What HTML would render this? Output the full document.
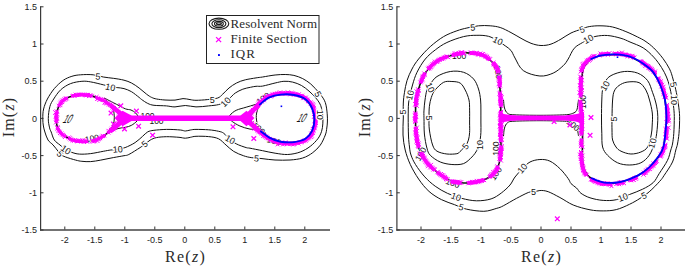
<!DOCTYPE html>
<html><head><meta charset="utf-8"><style>
html,body{margin:0;padding:0;background:#fff;width:685px;height:266px;overflow:hidden}
svg{display:block}
.tk{font-family:"Liberation Sans",sans-serif;font-size:9px;fill:#222}
.cl{font-family:"Liberation Sans",sans-serif;font-size:9px;fill:#111;text-anchor:middle;dominant-baseline:central;paint-order:stroke;stroke:#fff;stroke-width:2.2px}
.s{font-size:8.5px;stroke-width:1.5px}
.lg{font-family:"Liberation Serif",serif;font-size:13px;fill:#2a2a2a}
.ax{font-family:"Liberation Serif",serif;font-size:16px;fill:#2a2a2a}
</style></head><body>
<svg width="685" height="266" viewBox="0 0 685 266">
<path d="M42.8,118.5C42.8,115.7 42.8,112.2 43.6,109.0C44.4,105.8 45.6,102.4 47.4,99.0C49.2,95.6 51.7,91.7 54.3,88.6C56.9,85.5 60.2,82.5 63.1,80.4C66.0,78.4 69.0,77.2 71.9,76.3C74.8,75.4 77.2,75.0 80.7,74.8C84.2,74.5 89.4,74.4 93.2,74.8C97.0,75.2 100.0,76.4 103.3,77.0C106.6,77.6 109.8,77.8 113.3,78.3C116.8,78.8 121.0,79.4 124.0,80.2C127.0,81.0 129.0,81.7 131.5,83.0C134.0,84.3 136.6,86.1 139.1,88.0C141.6,89.9 144.5,92.6 146.6,94.2C148.7,95.8 149.9,96.6 151.6,97.4C153.3,98.2 154.4,98.6 156.6,99.0C158.8,99.4 161.9,99.8 165.0,100.0C168.1,100.2 172.0,100.3 175.0,100.1C178.0,99.9 180.5,98.7 183.0,98.6C185.5,98.5 187.8,99.3 190.0,99.6C192.2,99.9 193.1,100.3 196.0,100.3C198.9,100.3 203.7,100.0 207.3,99.6C210.9,99.2 215.1,98.9 217.7,98.0C220.3,97.1 220.8,95.9 222.7,94.2C224.6,92.5 226.7,89.9 229.0,88.0C231.3,86.1 233.8,84.4 236.5,83.0C239.2,81.6 242.1,80.6 245.3,79.8C248.6,79.0 253.1,78.4 256.0,77.9C258.9,77.4 259.4,77.5 262.6,77.0C265.8,76.5 271.3,75.4 275.1,75.0C278.9,74.6 282.1,74.4 285.2,74.5C288.3,74.6 291.0,74.7 293.9,75.4C296.8,76.1 300.0,77.2 302.7,78.6C305.4,80.0 308.2,81.9 310.3,83.6C312.4,85.3 313.6,86.8 315.3,88.6C317.0,90.4 318.8,92.2 320.5,94.5C322.2,96.8 324.2,99.3 325.3,102.5C326.4,105.7 326.9,110.5 327.2,113.8C327.5,117.0 327.5,119.6 327.4,122.0C327.3,124.4 327.1,125.8 326.8,128.0C326.5,130.2 326.4,132.2 325.3,135.0C324.2,137.8 322.4,142.2 320.3,145.1C318.2,148.0 315.7,150.4 312.8,152.6C309.9,154.8 306.5,156.8 302.7,158.0C298.9,159.2 294.6,159.7 290.0,160.0C285.4,160.3 279.7,160.2 275.0,160.0C270.3,159.8 266.0,159.0 262.0,158.6C258.0,158.2 254.2,158.1 251.2,157.6C248.1,157.1 246.6,156.8 243.7,155.8C240.8,154.8 236.6,153.2 233.7,151.4C230.8,149.6 228.6,147.2 226.1,145.1C223.6,143.0 221.5,140.2 218.6,138.8C215.7,137.4 212.4,137.0 208.6,136.6C204.8,136.2 199.0,136.2 196.0,136.3C193.0,136.4 192.2,137.0 190.4,137.3C188.6,137.6 187.2,138.2 185.3,138.2C183.4,138.2 182.1,137.6 179.0,137.3C175.9,137.1 170.2,136.6 166.5,136.7C162.8,136.8 159.2,137.0 156.5,137.6C153.8,138.2 152.1,139.0 150.2,140.1C148.3,141.2 146.9,142.8 145.2,144.0C143.5,145.2 142.8,145.8 140.1,147.6C137.4,149.3 131.5,153.2 128.8,154.5C126.1,155.8 126.6,155.2 124.0,155.7C121.4,156.2 117.2,156.9 113.3,157.6C109.4,158.3 104.6,159.4 100.8,160.1C97.0,160.8 93.8,161.4 90.7,161.6C87.6,161.8 84.4,161.6 81.9,161.3C79.4,161.1 78.4,160.8 75.7,160.1C73.0,159.4 68.1,157.9 65.6,157.0C63.1,156.1 61.9,155.4 60.6,154.5C59.4,153.6 59.4,152.9 58.1,151.3C56.9,149.7 54.8,146.9 53.1,145.0C51.4,143.1 49.4,142.2 48.0,140.0C46.6,137.8 45.7,134.3 44.9,132.0C44.1,129.7 43.8,128.2 43.4,126.0C43.0,123.8 42.8,121.3 42.8,118.5Z" fill="none" stroke="#111" stroke-width="1.0" />
<path d="M48.3,118.5C48.3,114.9 49.0,109.8 49.9,106.5C50.8,103.2 51.9,101.8 53.7,99.0C55.5,96.2 57.8,92.5 60.6,89.9C63.4,87.3 67.0,85.0 70.6,83.6C74.1,82.2 78.6,81.6 81.9,81.3C85.2,81.0 87.1,81.3 90.7,81.9C94.3,82.5 100.0,84.0 103.3,84.8C106.6,85.6 108.5,86.3 110.8,86.8C113.1,87.3 114.9,87.3 117.1,87.6C119.3,87.9 121.6,87.9 124.0,88.6C126.4,89.3 129.0,90.2 131.5,91.7C134.0,93.2 137.4,96.1 139.1,97.4C140.8,98.7 140.2,98.5 141.6,99.5C143.0,100.5 145.6,102.4 147.7,103.4C149.8,104.4 150.9,104.9 154.0,105.3C157.1,105.7 163.0,105.6 166.5,105.9C170.0,106.2 171.9,107.0 175.0,106.9C178.1,106.8 181.8,105.5 185.3,105.5C188.8,105.5 192.1,106.8 196.0,106.9C199.9,107.0 204.8,106.3 208.6,105.9C212.4,105.5 215.8,105.3 218.6,104.6C221.4,103.9 223.8,102.4 225.5,101.5C227.2,100.6 227.4,100.4 229.0,99.0C230.6,97.6 233.0,94.6 235.3,93.0C237.6,91.4 240.3,90.2 242.8,89.2C245.3,88.2 248.2,87.8 250.4,87.3C252.6,86.8 254.0,86.5 256.0,86.3C258.0,86.1 259.4,86.6 262.6,86.1C265.8,85.5 271.6,83.8 275.1,83.0C278.7,82.2 281.0,81.5 283.9,81.3C286.8,81.1 289.8,81.4 292.7,82.1C295.6,82.8 298.8,84.0 301.5,85.5C304.2,87.0 306.7,89.1 309.0,91.1C311.3,93.1 313.6,95.4 315.3,97.4C317.1,99.4 318.4,101.1 319.5,103.0C320.6,104.9 321.1,106.4 321.6,108.6C322.2,110.8 322.6,113.5 322.8,116.0C323.0,118.5 323.0,121.4 322.8,123.9C322.6,126.5 322.4,128.8 321.6,131.3C320.8,133.8 319.7,136.3 317.8,138.8C315.9,141.3 313.2,144.1 310.3,146.3C307.4,148.5 304.0,150.6 300.2,152.0C296.4,153.4 291.9,154.3 287.7,154.5C283.5,154.7 279.3,153.8 275.1,153.2C270.9,152.6 266.8,151.5 262.6,150.7C258.4,149.9 252.7,148.7 250.0,148.2C247.3,147.7 248.5,148.3 246.2,147.6C243.9,146.9 239.0,145.3 236.2,143.8C233.4,142.3 231.4,140.6 229.3,138.8C227.2,137.0 225.4,134.4 223.6,133.2C221.8,131.9 221.1,131.9 218.6,131.3C216.1,130.7 212.4,130.1 208.6,129.8C204.8,129.5 199.0,129.4 196.0,129.4C193.0,129.4 192.2,129.7 190.4,130.0C188.6,130.3 187.0,131.0 185.3,131.0C183.6,131.0 183.4,130.3 180.3,130.0C177.2,129.7 170.9,129.3 166.5,129.4C162.1,129.5 157.0,129.9 153.9,130.3C150.8,130.7 149.6,130.9 147.7,131.9C145.8,132.9 144.7,134.5 142.6,136.3C140.5,138.1 138.0,140.7 135.1,142.6C132.2,144.5 128.0,146.5 125.1,147.6C122.2,148.7 119.9,149.0 117.5,149.4C115.1,149.8 113.2,149.7 110.8,150.0C108.4,150.3 106.6,150.7 103.3,151.3C100.0,151.9 94.7,153.1 90.7,153.6C86.7,154.1 82.6,154.3 79.4,154.1C76.2,153.9 73.6,153.0 71.3,152.2C69.0,151.4 67.5,150.7 65.6,149.5C63.7,148.3 61.9,146.6 60.0,145.0C58.1,143.4 55.8,142.2 54.3,140.0C52.8,137.8 52.0,134.0 51.2,132.0C50.4,130.0 50.1,130.2 49.6,127.9C49.1,125.7 48.2,122.1 48.3,118.5Z" fill="none" stroke="#111" stroke-width="1.0" />
<path d="M104.0,98.0C106.1,99.0 113.0,102.5 116.5,104.3C120.0,106.1 122.9,107.8 125.3,108.8C127.7,109.8 129.3,109.3 131.0,110.0C132.7,110.7 134.4,111.8 135.6,113.0C136.8,114.2 138.0,115.7 138.2,117.0C138.4,118.3 138.2,119.6 137.0,121.0C135.8,122.4 133.2,124.4 131.3,125.4C129.4,126.5 127.5,126.8 125.3,127.3C123.0,127.8 120.7,127.8 117.8,128.6C114.9,129.4 109.6,131.4 108.0,132.0" fill="none" stroke="#111" stroke-width="1.0" />
<path d="M105.8,100.0C106.7,100.8 109.7,103.3 111.0,105.0C112.3,106.7 113.0,107.9 113.5,110.0C114.0,112.1 114.3,115.5 114.3,117.8C114.3,120.1 114.0,122.2 113.5,124.0C113.0,125.8 112.1,127.2 111.0,128.5C109.9,129.8 107.7,131.4 107.0,132.0" fill="none" stroke="#111" stroke-width="1.0" />
<path d="M265.0,101.0C263.3,101.6 258.1,103.6 255.0,104.6C251.9,105.6 249.3,106.2 246.2,107.2C243.1,108.2 238.9,109.0 236.2,110.3C233.5,111.6 231.0,113.9 229.9,115.3C228.8,116.7 229.1,117.5 229.5,118.5C229.9,119.5 230.7,120.3 232.4,121.6C234.1,122.8 237.0,124.8 239.9,126.0C242.8,127.2 246.4,128.5 250.0,129.1C253.6,129.7 258.6,128.7 261.3,129.5C264.0,130.3 265.2,133.2 266.0,134.0" fill="none" stroke="#111" stroke-width="1.0" />
<path d="M262.0,104.0C261.5,104.4 259.8,104.6 258.8,106.5C257.9,108.4 256.5,112.4 256.3,115.3C256.1,118.2 256.7,122.1 257.5,124.1C258.3,126.1 260.7,126.9 261.3,127.5" fill="none" stroke="#111" stroke-width="1.0" />
<path d="M125.3,118.0C124.5,117.4 122.2,115.8 120.3,114.2C118.4,112.6 116.3,110.3 114.0,108.3C111.7,106.3 109.0,103.9 106.5,102.3C104.0,100.7 101.7,99.6 99.0,98.5C96.3,97.4 93.1,96.2 90.2,95.6C87.3,95.0 84.3,94.8 81.4,94.8C78.5,94.8 75.3,95.2 72.6,95.9C69.9,96.6 67.2,97.7 65.1,99.0C63.0,100.3 61.5,102.0 60.2,104.0C58.9,106.0 57.9,108.3 57.2,110.7C56.5,113.1 56.2,115.8 56.2,118.5C56.2,121.2 56.4,124.4 57.3,127.0C58.2,129.6 59.8,132.0 61.8,134.0C63.8,136.0 66.8,137.6 69.5,138.8C72.2,140.0 75.1,140.7 78.0,141.2C80.9,141.7 84.2,141.8 87.0,141.6C89.8,141.4 92.5,141.0 95.0,140.2C97.5,139.4 99.8,138.3 102.0,137.0C104.2,135.7 106.4,134.0 108.5,132.3C110.6,130.6 112.5,128.9 114.5,127.0C116.5,125.1 118.5,122.5 120.3,121.0C122.1,119.5 124.5,118.5 125.3,118.0" fill="none" stroke="#111" stroke-width="1.6" />
<path d="M248.7,118.0C249.6,116.9 252.2,113.4 254.0,111.2C255.8,109.0 256.6,107.2 259.2,104.9C261.8,102.6 265.7,99.1 269.3,97.4C272.9,95.7 276.5,95.0 280.6,94.6C284.7,94.2 290.0,94.2 294.1,95.0C298.2,95.8 302.4,97.1 305.4,99.3C308.4,101.5 310.6,104.9 312.1,108.3C313.6,111.7 314.4,115.8 314.4,119.6C314.4,123.4 313.6,127.7 312.1,130.9C310.6,134.1 308.4,136.9 305.4,138.8C302.4,140.7 298.2,141.6 294.1,142.1C290.0,142.6 284.7,142.4 280.6,141.7C276.5,140.9 272.7,139.4 269.3,137.6C265.9,135.8 262.9,133.0 260.3,130.9C257.8,128.8 255.9,127.0 254.0,124.8C252.1,122.6 249.6,119.1 248.7,118.0" fill="none" stroke="#111" stroke-width="1.4" />
<text x="147.5" y="116.2" transform="rotate(0 147.5 116.2)" class="cl s">100</text>
<text x="156.5" y="120.6" transform="rotate(0 156.5 120.6)" class="cl s">100</text>
<text x="263" y="98.5" transform="rotate(-35 263 98.5)" class="cl s">100</text>
<text x="258.6" y="128.2" transform="rotate(42 258.6 128.2)" class="cl s">100</text>
<text x="274" y="141" transform="rotate(15 274 141)" class="cl s">100</text>
<text x="92" y="138.5" transform="rotate(-10 92 138.5)" class="cl s">100</text>
<path d="M125.3,118.0L124.8,117.7L124.2,117.2L123.5,116.7L122.6,116.1L121.8,115.4L120.9,114.7L120.1,114.0L119.5,113.5L118.8,112.9L118.2,112.3L118.0,112.0M115.2,109.4L114.5,108.7L113.8,108.1L113.1,107.5L112.4,107.0L111.7,106.4L111.0,105.8L110.3,105.2L109.6,104.6L108.9,104.0L108.2,103.5L107.4,102.9L106.7,102.5L106.0,102.0L105.2,101.5L104.4,101.0L103.6,100.6L102.8,100.2L102.0,99.8L101.2,99.5L100.4,99.1L99.6,98.7L98.7,98.4L97.9,98.1L97.0,97.7L96.2,97.4L95.6,97.2M92.3,96.1L91.4,95.9L90.5,95.7L89.6,95.5L88.7,95.3L87.8,95.2L86.9,95.1L86.0,95.0L85.0,94.9L84.1,94.8L83.2,94.8L82.3,94.8L81.4,94.8L80.5,94.8L79.6,94.9L78.6,94.9L77.7,95.0L76.8,95.1L75.8,95.3L74.9,95.4L74.0,95.6L73.2,95.8L72.3,96.0L71.4,96.2M67.4,97.8L66.6,98.1L65.8,98.6L65.1,99.0L64.3,99.5L63.6,100.1L62.9,100.7L62.3,101.4L61.7,102.1L61.1,102.8L60.5,103.5L60.0,104.2L59.6,105.0L59.1,105.8L58.7,106.6M57.2,110.7L57.0,111.5L56.8,112.4L56.6,113.3L56.5,114.2L56.4,115.1L56.3,116.0L56.2,116.9L56.2,117.9L56.2,118.8L56.2,119.7L56.2,120.6L56.3,121.5L56.4,122.5L56.4,122.8M57.3,127.0L57.6,127.9L58.0,128.7L58.4,129.5L58.9,130.3L59.4,131.1L59.9,131.9L60.5,132.6L61.1,133.3L61.8,134.0L62.4,134.6L63.1,135.1L63.8,135.7L64.6,136.2L65.4,136.7M68.4,138.3L69.2,138.7L70.1,139.0L70.9,139.4L71.8,139.7L72.6,140.0L73.5,140.2L74.4,140.5L75.3,140.7L76.2,140.9L77.1,141.0L78.0,141.2L78.9,141.3L79.8,141.4L80.7,141.5L81.6,141.6L82.5,141.6L83.4,141.7L84.4,141.7L85.3,141.7L86.1,141.6L87.0,141.6L87.3,141.6M92.2,140.9L93.0,140.7L93.9,140.5L94.7,140.3L95.6,140.0L96.5,139.7L97.3,139.4L98.2,139.0L99.0,138.6L99.8,138.2L100.6,137.8L101.5,137.3L102.3,136.8L103.0,136.4L103.8,135.9L104.6,135.3L104.8,135.1M107.8,132.9L108.5,132.3L109.2,131.7L109.9,131.1L110.6,130.5L111.3,129.9L112.0,129.3L112.7,128.7L113.4,128.1L114.0,127.4L114.7,126.8L115.4,126.1L116.0,125.4L116.7,124.7L117.4,124.0L118.0,123.3L118.6,122.6L119.3,121.9L119.9,121.4L120.6,120.8L121.5,120.1L122.4,119.5L123.3,119.0L124.1,118.6L124.8,118.3L125.3,118.0" fill="none" stroke="#ff00ff" stroke-width="3.0" stroke-linejoin="round"/>
<path d="M122.8 116.2l4.4 4.4m0 -4.4l-4.4 4.4M122.2 115.4l4.3 4.3m0 -4.3l-4.3 4.3M121.7 114.7l3.7 3.7m0 -3.7l-3.7 3.7M121.0 114.1l3.6 3.6m0 -3.6l-3.6 3.6M119.6 113.7l3.9 3.9m0 -3.9l-3.9 3.9M118.9 113.2l3.5 3.5m0 -3.5l-3.5 3.5M118.1 112.3l3.7 3.7m0 -3.7l-3.7 3.7M117.0 111.7l3.9 3.9m0 -3.9l-3.9 3.9M116.7 110.5l3.6 3.6m0 -3.6l-3.6 3.6M112.3 107.5l3.9 3.9m0 -3.9l-3.9 3.9M111.6 106.0l4.4 4.4m0 -4.4l-4.4 4.4M110.7 105.7l3.8 3.8m0 -3.8l-3.8 3.8M110.5 104.6l3.4 3.4m0 -3.4l-3.4 3.4M109.3 103.3l4.2 4.2m0 -4.2l-4.2 4.2M108.2 102.7l4.1 4.1m0 -4.1l-4.1 4.1M106.9 102.5l4.0 4.0m0 -4.0l-4.0 4.0M106.6 101.0l3.9 3.9m0 -3.9l-3.9 3.9M104.9 101.9l3.5 3.5m0 -3.5l-3.5 3.5M103.6 100.8l4.2 4.2m0 -4.2l-4.2 4.2M102.6 100.7l3.8 3.8m0 -3.8l-3.8 3.8M102.6 98.6l3.6 3.6m0 -3.6l-3.6 3.6M101.4 98.5l3.5 3.5m0 -3.5l-3.5 3.5M100.3 97.7l3.8 3.8m0 -3.8l-3.8 3.8M99.3 97.3l3.5 3.5m0 -3.5l-3.5 3.5M97.4 97.7l4.2 4.2m0 -4.2l-4.2 4.2M96.8 96.8l3.7 3.7m0 -3.7l-3.7 3.7M95.2 96.4l4.4 4.4m0 -4.4l-4.4 4.4M94.9 95.0l3.6 3.6m0 -3.6l-3.6 3.6M89.7 93.9l4.0 4.0m0 -4.0l-4.0 4.0M88.9 93.4l3.4 3.4m0 -3.4l-3.4 3.4M87.0 93.7l4.4 4.4m0 -4.4l-4.4 4.4M86.2 92.8l3.9 3.9m0 -3.9l-3.9 3.9M84.7 93.0l4.3 4.3m0 -4.3l-4.3 4.3M83.5 92.9l4.3 4.3m0 -4.3l-4.3 4.3M82.7 93.5l3.5 3.5m0 -3.5l-3.5 3.5M81.5 92.8l3.5 3.5m0 -3.5l-3.5 3.5M80.1 92.8l3.7 3.7m0 -3.7l-3.7 3.7M79.1 92.8l3.4 3.4m0 -3.4l-3.4 3.4M77.8 92.8l3.4 3.4m0 -3.4l-3.4 3.4M76.3 92.7l4.0 4.0m0 -4.0l-4.0 4.0M75.2 93.2l3.8 3.8m0 -3.8l-3.8 3.8M73.7 92.7l4.2 4.2m0 -4.2l-4.2 4.2M73.0 94.3l3.5 3.5m0 -3.5l-3.5 3.5M71.6 93.7l3.7 3.7m0 -3.7l-3.7 3.7M70.6 94.1l3.4 3.4m0 -3.4l-3.4 3.4M64.7 96.4l3.9 3.9m0 -3.9l-3.9 3.9M63.7 96.8l3.9 3.9m0 -3.9l-3.9 3.9M62.5 97.3l4.3 4.3m0 -4.3l-4.3 4.3M61.8 98.4l3.6 3.6m0 -3.6l-3.6 3.6M60.4 98.6l3.9 3.9m0 -3.9l-3.9 3.9M59.9 99.8l4.2 4.2m0 -4.2l-4.2 4.2M58.7 100.4l4.3 4.3m0 -4.3l-4.3 4.3M58.3 101.7l3.6 3.6m0 -3.6l-3.6 3.6M58.5 103.3l3.8 3.8m0 -3.8l-3.8 3.8M56.9 103.8l3.7 3.7m0 -3.7l-3.7 3.7M54.7 109.4l4.4 4.4m0 -4.4l-4.4 4.4M53.2 110.3l4.4 4.4m0 -4.4l-4.4 4.4M55.3 112.2l3.6 3.6m0 -3.6l-3.6 3.6M54.2 113.1l4.0 4.0m0 -4.0l-4.0 4.0M53.8 114.2l4.2 4.2m0 -4.2l-4.2 4.2M55.0 115.8l3.5 3.5m0 -3.5l-3.5 3.5M54.8 116.6l4.3 4.3m0 -4.3l-4.3 4.3M54.4 118.2l3.6 3.6m0 -3.6l-3.6 3.6M55.0 119.3l3.7 3.7m0 -3.7l-3.7 3.7M54.0 120.6l3.8 3.8m0 -3.8l-3.8 3.8M55.4 125.2l4.1 4.1m0 -4.1l-4.1 4.1M55.5 126.3l4.3 4.3m0 -4.3l-4.3 4.3M56.5 127.9l3.5 3.5m0 -3.5l-3.5 3.5M56.6 129.1l3.8 3.8m0 -3.8l-3.8 3.8M58.1 129.8l3.5 3.5m0 -3.5l-3.5 3.5M58.0 131.1l3.9 3.9m0 -3.9l-3.9 3.9M59.5 131.5l3.8 3.8m0 -3.8l-3.8 3.8M60.3 132.7l3.7 3.7m0 -3.7l-3.7 3.7M61.5 133.1l3.6 3.6m0 -3.6l-3.6 3.6M62.4 134.1l3.5 3.5m0 -3.5l-3.5 3.5M63.0 135.1l3.8 3.8m0 -3.8l-3.8 3.8M66.9 135.5l3.8 3.8m0 -3.8l-3.8 3.8M67.8 136.4l3.9 3.9m0 -3.9l-3.9 3.9M68.7 137.3l3.8 3.8m0 -3.8l-3.8 3.8M70.1 138.0l3.4 3.4m0 -3.4l-3.4 3.4M70.8 138.3l4.1 4.1m0 -4.1l-4.1 4.1M72.1 139.0l3.7 3.7m0 -3.7l-3.7 3.7M73.7 138.1l3.5 3.5m0 -3.5l-3.5 3.5M74.7 138.8l3.6 3.6m0 -3.6l-3.6 3.6M75.7 139.3l4.0 4.0m0 -4.0l-4.0 4.0M76.8 138.6l4.3 4.3m0 -4.3l-4.3 4.3M78.2 139.1l3.9 3.9m0 -3.9l-3.9 3.9M79.4 139.3l3.9 3.9m0 -3.9l-3.9 3.9M80.5 138.4l4.1 4.1m0 -4.1l-4.1 4.1M81.6 139.7l4.3 4.3m0 -4.3l-4.3 4.3M82.8 138.4l4.2 4.2m0 -4.2l-4.2 4.2M84.4 139.4l3.5 3.5m0 -3.5l-3.5 3.5M85.6 140.2l3.5 3.5m0 -3.5l-3.5 3.5M90.1 139.0l4.2 4.2m0 -4.2l-4.2 4.2M91.4 139.1l4.1 4.1m0 -4.1l-4.1 4.1M92.5 138.9l4.3 4.3m0 -4.3l-4.3 4.3M93.8 138.3l3.8 3.8m0 -3.8l-3.8 3.8M95.0 138.5l4.4 4.4m0 -4.4l-4.4 4.4M96.1 137.4l3.9 3.9m0 -3.9l-3.9 3.9M97.4 137.2l3.6 3.6m0 -3.6l-3.6 3.6M98.1 136.1l4.0 4.0m0 -4.0l-4.0 4.0M99.4 135.7l3.4 3.4m0 -3.4l-3.4 3.4M100.3 134.7l3.5 3.5m0 -3.5l-3.5 3.5M101.0 133.8l4.2 4.2m0 -4.2l-4.2 4.2M102.8 134.0l3.4 3.4m0 -3.4l-3.4 3.4M106.6 130.8l3.7 3.7m0 -3.7l-3.7 3.7M106.5 128.9l4.2 4.2m0 -4.2l-4.2 4.2M108.7 129.6l3.5 3.5m0 -3.5l-3.5 3.5M108.9 127.9l3.5 3.5m0 -3.5l-3.5 3.5M109.7 127.0l4.1 4.1m0 -4.1l-4.1 4.1M111.6 127.3l4.0 4.0m0 -4.0l-4.0 4.0M112.4 126.3l3.5 3.5m0 -3.5l-3.5 3.5M113.4 125.5l3.9 3.9m0 -3.9l-3.9 3.9M113.9 124.2l4.0 4.0m0 -4.0l-4.0 4.0M114.5 123.0l3.9 3.9m0 -3.9l-3.9 3.9M115.8 122.4l3.5 3.5m0 -3.5l-3.5 3.5M116.6 121.4l3.7 3.7m0 -3.7l-3.7 3.7M117.1 120.1l4.2 4.2m0 -4.2l-4.2 4.2M117.8 119.2l3.7 3.7m0 -3.7l-3.7 3.7M119.1 118.7l3.7 3.7m0 -3.7l-3.7 3.7M120.0 118.1l3.6 3.6m0 -3.6l-3.6 3.6M120.2 116.7l4.3 4.3m0 -4.3l-4.3 4.3M122.0 117.0l3.9 3.9m0 -3.9l-3.9 3.9M122.7 115.9l3.8 3.8m0 -3.8l-3.8 3.8" stroke="#ff00ff" stroke-width="1.0" fill="none"/>
<path d="M121,118.2H249" stroke="#ff00ff" stroke-width="5.4"/>
<path d="M247.7,117.2L248.0,116.8L248.5,116.2L249.0,115.5L249.6,114.7L250.2,113.9L250.9,113.1L251.5,112.2L252.2,111.4L252.8,110.6L253.3,109.9L253.9,109.3L254.3,108.6L254.8,107.9L255.3,107.2L255.9,106.5L256.5,105.7L257.2,105.0L258.0,104.2L258.7,103.6L259.3,103.0L260.0,102.5L260.7,101.9L261.4,101.2L262.2,100.6L262.9,100.0L263.7,99.4L264.5,98.8L265.4,98.2L266.2,97.7L267.0,97.1L267.9,96.7L268.7,96.2L269.6,95.8L270.5,95.5L271.4,95.1L272.3,94.8L273.2,94.6L274.1,94.3L275.1,94.1L276.0,93.9L276.9,93.8L277.9,93.6L278.8,93.5L279.8,93.4L280.8,93.3L281.6,93.2L282.5,93.1L283.4,93.1L284.4,93.1L285.3,93.0L286.3,93.0L287.2,93.1L288.2,93.1L289.1,93.1L290.1,93.2L291.0,93.3L292.0,93.4L292.9,93.5L293.8,93.6L294.7,93.8L295.6,94.0L296.6,94.2L297.5,94.4L298.5,94.7L299.4,95.0L300.3,95.3L301.2,95.6L302.1,96.0L303.0,96.4L303.8,96.8L304.6,97.2L305.4,97.7L306.2,98.3L306.9,98.9L307.7,99.5L308.4,100.2L309.0,100.9L309.7,101.7L310.3,102.5L310.8,103.3L311.4,104.1L311.9,104.9L312.3,105.8L312.8,106.6L313.2,107.5L313.5,108.3L313.9,109.2L314.2,110.1L314.5,111.0L314.7,112.0L315.0,112.9L315.1,113.9L315.3,114.8L315.5,115.8L315.6,116.8L315.6,117.7L315.7,118.7L315.7,119.6L315.7,120.5L315.6,121.5L315.6,122.5L315.5,123.4L315.3,124.4L315.1,125.4L315.0,126.4L314.7,127.3L314.5,128.2L314.2,129.2L313.9,130.0L313.5,130.9L313.1,131.7L312.7,132.6L312.2,133.5L311.7,134.3L311.1,135.1L310.5,135.9L309.9,136.7L309.2,137.4L308.5,138.1L307.7,138.7L306.9,139.3L306.1,139.9L305.3,140.4L304.5,140.8L303.7,141.1L302.8,141.5L301.9,141.8L301.0,142.1L300.1,142.3L299.1,142.6L298.1,142.8L297.2,143.0L296.2,143.1L295.2,143.3L294.3,143.4L293.4,143.5L292.5,143.6L291.6,143.6L290.6,143.7L289.7,143.7L288.8,143.7L287.8,143.7L286.8,143.6L285.9,143.6L284.9,143.5L284.0,143.5L283.0,143.4L282.1,143.3L281.2,143.1L280.4,143.0L279.4,142.8L278.5,142.6L277.5,142.3L276.6,142.1L275.7,141.8L274.8,141.5L273.9,141.2L273.1,140.8L272.2,140.4L271.4,140.1L270.5,139.7L269.7,139.3L269.0,138.9L268.1,138.4L267.3,137.9L266.4,137.4L265.6,136.8L264.8,136.3L264.1,135.7L263.3,135.1L262.6,134.5L261.9,133.9L261.2,133.4L260.5,132.8L259.9,132.2L259.2,131.7L258.4,131.0L257.7,130.4L257.0,129.7L256.3,129.1L255.7,128.5L255.1,127.8L254.4,127.2L253.8,126.6L253.2,125.9L252.6,125.2L251.9,124.4L251.2,123.5L250.6,122.7L249.9,121.8L249.3,121.0L248.8,120.2L248.3,119.6L247.9,119.1L247.7,118.8" fill="none" stroke="#ff00ff" stroke-width="3.0" stroke-linejoin="round"/>
<path d="M245.3 114.9l3.7 3.7m0 -3.7l-3.7 3.7M245.0 113.4l4.1 4.1m0 -4.1l-4.1 4.1M246.9 113.5l3.5 3.5m0 -3.5l-3.5 3.5M248.3 112.9l3.5 3.5m0 -3.5l-3.5 3.5M248.7 111.9l3.5 3.5m0 -3.5l-3.5 3.5M249.2 110.9l4.3 4.3m0 -4.3l-4.3 4.3M249.8 110.0l3.7 3.7m0 -3.7l-3.7 3.7M251.0 109.6l3.6 3.6m0 -3.6l-3.6 3.6M250.9 107.9l4.4 4.4m0 -4.4l-4.4 4.4M253.3 108.3l3.6 3.6m0 -3.6l-3.6 3.6M252.6 106.5l3.4 3.4m0 -3.4l-3.4 3.4M253.7 105.8l3.9 3.9m0 -3.9l-3.9 3.9M254.4 104.9l3.4 3.4m0 -3.4l-3.4 3.4M255.5 104.2l3.5 3.5m0 -3.5l-3.5 3.5M256.0 102.7l3.7 3.7m0 -3.7l-3.7 3.7M256.7 101.6l4.0 4.0m0 -4.0l-4.0 4.0M257.5 100.8l4.1 4.1m0 -4.1l-4.1 4.1M258.0 99.5l3.8 3.8m0 -3.8l-3.8 3.8M259.6 99.4l4.1 4.1m0 -4.1l-4.1 4.1M260.7 98.7l3.4 3.4m0 -3.4l-3.4 3.4M261.8 98.1l4.1 4.1m0 -4.1l-4.1 4.1M262.5 96.6l3.5 3.5m0 -3.5l-3.5 3.5M262.9 95.0l4.2 4.2m0 -4.2l-4.2 4.2M264.8 95.3l4.0 4.0m0 -4.0l-4.0 4.0M265.9 94.5l3.6 3.6m0 -3.6l-3.6 3.6M266.9 93.6l3.5 3.5m0 -3.5l-3.5 3.5M268.6 94.4l4.0 4.0m0 -4.0l-4.0 4.0M269.6 93.8l4.0 4.0m0 -4.0l-4.0 4.0M270.5 92.6l4.2 4.2m0 -4.2l-4.2 4.2M271.9 92.4l3.9 3.9m0 -3.9l-3.9 3.9M273.0 91.9l4.1 4.1m0 -4.1l-4.1 4.1M274.5 91.9l3.5 3.5m0 -3.5l-3.5 3.5M275.5 91.5l4.1 4.1m0 -4.1l-4.1 4.1M276.8 91.1l3.9 3.9m0 -3.9l-3.9 3.9M278.0 90.4l4.2 4.2m0 -4.2l-4.2 4.2M279.3 91.3l4.0 4.0m0 -4.0l-4.0 4.0M280.5 91.4l4.1 4.1m0 -4.1l-4.1 4.1M281.8 91.5l4.0 4.0m0 -4.0l-4.0 4.0M283.0 91.5l4.1 4.1m0 -4.1l-4.1 4.1M284.2 91.2l4.1 4.1m0 -4.1l-4.1 4.1M285.6 90.5l3.9 3.9m0 -3.9l-3.9 3.9M286.7 90.9l4.3 4.3m0 -4.3l-4.3 4.3M288.3 92.9l3.4 3.4m0 -3.4l-3.4 3.4M289.2 91.0l4.2 4.2m0 -4.2l-4.2 4.2M290.8 91.2l3.6 3.6m0 -3.6l-3.6 3.6M291.9 92.0l3.6 3.6m0 -3.6l-3.6 3.6M292.7 92.1l4.4 4.4m0 -4.4l-4.4 4.4M294.0 92.6l4.2 4.2m0 -4.2l-4.2 4.2M295.5 93.3l3.6 3.6m0 -3.6l-3.6 3.6M297.0 92.3l3.9 3.9m0 -3.9l-3.9 3.9M297.9 93.9l3.9 3.9m0 -3.9l-3.9 3.9M299.4 93.9l3.5 3.5m0 -3.5l-3.5 3.5M300.9 94.0l3.4 3.4m0 -3.4l-3.4 3.4M300.9 95.5l4.2 4.2m0 -4.2l-4.2 4.2M302.1 95.8l4.3 4.3m0 -4.3l-4.3 4.3M304.0 95.7l3.8 3.8m0 -3.8l-3.8 3.8M304.3 97.4l3.8 3.8m0 -3.8l-3.8 3.8M305.9 97.7l3.7 3.7m0 -3.7l-3.7 3.7M306.1 99.2l3.7 3.7m0 -3.7l-3.7 3.7M307.1 100.0l3.6 3.6m0 -3.6l-3.6 3.6M308.7 100.4l3.8 3.8m0 -3.8l-3.8 3.8M308.9 101.4l4.3 4.3m0 -4.3l-4.3 4.3M310.3 102.0l4.3 4.3m0 -4.3l-4.3 4.3M311.1 103.3l4.1 4.1m0 -4.1l-4.1 4.1M310.9 104.8l4.2 4.2m0 -4.2l-4.2 4.2M312.2 106.0l3.7 3.7m0 -3.7l-3.7 3.7M311.7 107.4l3.9 3.9m0 -3.9l-3.9 3.9M312.6 108.5l3.7 3.7m0 -3.7l-3.7 3.7M312.2 109.8l4.1 4.1m0 -4.1l-4.1 4.1M313.0 110.9l4.0 4.0m0 -4.0l-4.0 4.0M313.2 112.4l3.6 3.6m0 -3.6l-3.6 3.6M313.2 113.6l3.9 3.9m0 -3.9l-3.9 3.9M312.0 115.0l3.8 3.8m0 -3.8l-3.8 3.8M315.0 116.2l3.6 3.6m0 -3.6l-3.6 3.6M314.0 117.5l3.6 3.6m0 -3.6l-3.6 3.6M313.5 118.6l4.0 4.0m0 -4.0l-4.0 4.0M313.7 119.9l3.8 3.8m0 -3.8l-3.8 3.8M314.2 121.3l3.8 3.8m0 -3.8l-3.8 3.8M312.7 122.2l4.4 4.4m0 -4.4l-4.4 4.4M313.0 123.7l3.9 3.9m0 -3.9l-3.9 3.9M312.7 125.1l3.7 3.7m0 -3.7l-3.7 3.7M312.9 126.4l3.8 3.8m0 -3.8l-3.8 3.8M310.9 127.0l4.3 4.3m0 -4.3l-4.3 4.3M312.2 129.0l3.4 3.4m0 -3.4l-3.4 3.4M310.7 129.5l4.0 4.0m0 -4.0l-4.0 4.0M311.0 131.2l3.8 3.8m0 -3.8l-3.8 3.8M309.2 131.6l4.4 4.4m0 -4.4l-4.4 4.4M310.2 134.0l3.5 3.5m0 -3.5l-3.5 3.5M308.8 134.6l4.3 4.3m0 -4.3l-4.3 4.3M307.5 135.2l4.0 4.0m0 -4.0l-4.0 4.0M307.3 136.9l3.4 3.4m0 -3.4l-3.4 3.4M305.5 137.0l3.6 3.6m0 -3.6l-3.6 3.6M304.8 138.2l3.5 3.5m0 -3.5l-3.5 3.5M303.5 138.7l4.0 4.0m0 -4.0l-4.0 4.0M302.2 138.8l3.9 3.9m0 -3.9l-3.9 3.9M301.1 139.4l3.8 3.8m0 -3.8l-3.8 3.8M300.1 140.0l3.7 3.7m0 -3.7l-3.7 3.7M298.5 140.0l4.4 4.4m0 -4.4l-4.4 4.4M297.5 140.2l3.6 3.6m0 -3.6l-3.6 3.6M296.1 141.0l4.4 4.4m0 -4.4l-4.4 4.4M294.9 141.1l3.9 3.9m0 -3.9l-3.9 3.9M293.6 141.2l3.8 3.8m0 -3.8l-3.8 3.8M292.5 142.3l3.6 3.6m0 -3.6l-3.6 3.6M291.3 142.8l3.7 3.7m0 -3.7l-3.7 3.7M289.8 141.7l4.2 4.2m0 -4.2l-4.2 4.2M288.7 142.1l3.9 3.9m0 -3.9l-3.9 3.9M287.3 141.1l4.2 4.2m0 -4.2l-4.2 4.2M286.3 142.0l3.6 3.6m0 -3.6l-3.6 3.6M284.9 142.1l3.9 3.9m0 -3.9l-3.9 3.9M283.8 140.4l3.6 3.6m0 -3.6l-3.6 3.6M282.5 142.5l3.5 3.5m0 -3.5l-3.5 3.5M281.1 142.8l3.6 3.6m0 -3.6l-3.6 3.6M280.1 141.4l3.5 3.5m0 -3.5l-3.5 3.5M278.5 140.7l4.3 4.3m0 -4.3l-4.3 4.3M277.2 140.8l4.3 4.3m0 -4.3l-4.3 4.3M275.8 142.7l3.6 3.6m0 -3.6l-3.6 3.6M274.9 140.1l4.1 4.1m0 -4.1l-4.1 4.1M273.8 140.0l3.8 3.8m0 -3.8l-3.8 3.8M272.7 139.5l3.7 3.7m0 -3.7l-3.7 3.7M271.2 138.7l4.4 4.4m0 -4.4l-4.4 4.4M270.5 138.2l3.8 3.8m0 -3.8l-3.8 3.8M268.9 137.9l4.2 4.2m0 -4.2l-4.2 4.2M268.4 137.0l3.8 3.8m0 -3.8l-3.8 3.8M267.2 136.9l3.6 3.6m0 -3.6l-3.6 3.6M266.0 136.3l3.8 3.8m0 -3.8l-3.8 3.8M264.6 135.6l4.2 4.2m0 -4.2l-4.2 4.2M263.6 134.5l4.3 4.3m0 -4.3l-4.3 4.3M262.5 134.0l4.1 4.1m0 -4.1l-4.1 4.1M261.2 133.3l4.4 4.4m0 -4.4l-4.4 4.4M261.0 132.4l3.7 3.7m0 -3.7l-3.7 3.7M259.8 132.2l3.4 3.4m0 -3.4l-3.4 3.4M258.9 130.5l4.3 4.3m0 -4.3l-4.3 4.3M258.1 130.3l3.6 3.6m0 -3.6l-3.6 3.6M256.7 129.3l4.4 4.4m0 -4.4l-4.4 4.4M255.8 128.9l3.8 3.8m0 -3.8l-3.8 3.8M255.0 127.3l4.3 4.3m0 -4.3l-4.3 4.3M254.2 126.6l4.2 4.2m0 -4.2l-4.2 4.2M252.6 126.7l4.0 4.0m0 -4.0l-4.0 4.0M252.2 125.3l4.2 4.2m0 -4.2l-4.2 4.2M252.2 124.2l3.6 3.6m0 -3.6l-3.6 3.6M251.1 123.7l3.4 3.4m0 -3.4l-3.4 3.4M250.2 122.4l3.7 3.7m0 -3.7l-3.7 3.7M250.4 120.9l3.7 3.7m0 -3.7l-3.7 3.7M247.9 121.6l3.5 3.5m0 -3.5l-3.5 3.5M248.0 120.1l3.6 3.6m0 -3.6l-3.6 3.6M246.8 119.4l4.0 4.0m0 -4.0l-4.0 4.0M246.5 118.0l4.1 4.1m0 -4.1l-4.1 4.1M244.8 117.6l4.2 4.2m0 -4.2l-4.2 4.2" stroke="#ff00ff" stroke-width="1.0" fill="none"/>
<path d="M114.5,118L122.5,110.8L131.5,115.6L131.5,121L122.5,126.3Z" fill="#ff00ff"/>
<path d="M254.5,118L246.5,110.8L240.5,115.6L240.5,121L246.5,126.3Z" fill="#ff00ff"/>
<path d="M126,118L112,106.5M126,118L112,130M244,118L258,106M244,118L258,130" stroke="#ff00ff" stroke-width="4.6" stroke-linecap="round"/>
<path d="M259.2,104.9C260.9,103.7 265.7,99.1 269.3,97.4C272.9,95.7 276.5,95.0 280.6,94.6C284.7,94.2 290.0,94.2 294.1,95.0C298.2,95.8 302.4,97.1 305.4,99.3C308.4,101.5 310.6,104.9 312.1,108.3C313.6,111.7 314.4,115.8 314.4,119.6C314.4,123.4 313.6,127.7 312.1,130.9C310.6,134.1 308.4,136.9 305.4,138.8C302.4,140.7 298.2,141.6 294.1,142.1C290.0,142.6 284.7,142.4 280.6,141.7C276.5,140.9 272.7,139.4 269.3,137.6C265.9,135.8 261.8,132.0 260.3,130.9" fill="none" stroke="#0000ff" stroke-width="1.9" />
<rect x="280.6" y="105.5" width="1.6" height="1.6" fill="#0000ff"/>
<path d="M118.5,103.5L123.1,108.1M118.5,108.1L123.1,103.5" stroke="#ff00ff" stroke-width="1.3"/>
<path d="M108.7,110.8L113.3,115.4M108.7,115.4L113.3,110.8" stroke="#ff00ff" stroke-width="1.3"/>
<path d="M122.2,126.7L126.8,131.3M122.2,131.3L126.8,126.7" stroke="#ff00ff" stroke-width="1.3"/>
<path d="M111.2,121.8L115.8,126.4M111.2,126.4L115.8,121.8" stroke="#ff00ff" stroke-width="1.3"/>
<path d="M134.1,108.8L138.7,113.4M134.1,113.4L138.7,108.8" stroke="#ff00ff" stroke-width="1.3"/>
<path d="M136.3,123.9L140.9,128.5M136.3,128.5L140.9,123.9" stroke="#ff00ff" stroke-width="1.3"/>
<path d="M150.3,132.9L154.9,137.5M150.3,137.5L154.9,132.9" stroke="#ff00ff" stroke-width="1.3"/>
<path d="M230.7,124.5L235.3,129.1M230.7,129.1L235.3,124.5" stroke="#ff00ff" stroke-width="1.3"/>
<path d="M251.5,136.2L256.1,140.8M251.5,140.8L256.1,136.2" stroke="#ff00ff" stroke-width="1.3"/>
<path d="M403.3,118.0C403.4,112.7 403.1,107.3 403.3,103.0C403.5,98.7 403.9,96.0 404.5,92.3C405.1,88.6 405.8,84.5 407.0,80.6C408.2,76.7 410.1,72.6 412.0,69.0C413.9,65.4 415.6,62.7 418.6,59.0C421.7,55.3 426.1,50.3 430.3,46.6C434.5,42.9 439.2,39.2 443.6,36.6C448.0,34.0 453.0,32.2 456.9,30.8C460.8,29.4 463.3,28.8 466.9,28.0C470.5,27.2 474.6,26.2 478.5,25.8C482.4,25.4 486.6,25.5 490.2,25.8C493.8,26.1 496.7,26.4 500.2,27.5C503.7,28.6 507.5,30.8 511.0,32.6C514.5,34.4 517.7,36.5 521.0,38.3C524.3,40.1 527.7,42.1 531.0,43.3C534.3,44.5 537.7,45.4 541.0,45.5C544.3,45.6 547.7,45.2 551.0,44.1C554.3,43.0 557.7,41.0 561.0,39.1C564.3,37.2 567.5,34.7 571.0,33.0C574.5,31.3 578.8,30.1 581.8,29.0C584.8,27.9 586.2,27.1 589.2,26.6C592.2,26.1 596.1,25.7 600.0,25.8C603.9,25.9 608.3,26.0 612.6,27.0C616.9,28.0 621.7,29.9 625.9,31.6C630.1,33.3 634.4,35.4 637.6,37.0C640.8,38.6 642.3,39.2 645.0,41.0C647.7,42.8 650.7,45.0 653.7,47.9C656.7,50.8 660.3,54.9 662.9,58.4C665.5,61.9 667.8,65.5 669.5,68.9C671.2,72.3 671.9,75.0 673.0,79.0C674.1,83.0 675.5,88.3 676.4,92.6C677.3,96.9 678.0,101.0 678.5,105.0C679.0,109.0 679.5,111.9 679.6,116.6C679.7,121.3 679.4,128.7 679.0,133.3C678.6,137.9 678.0,141.2 677.5,144.0C677.0,146.8 676.6,147.0 675.8,150.0C675.0,153.0 674.4,157.8 672.5,162.0C670.6,166.2 666.3,172.1 664.2,175.3C662.1,178.5 662.2,178.6 659.7,181.3C657.2,184.1 652.5,189.0 649.2,191.8C645.9,194.7 643.3,196.3 640.0,198.4C636.7,200.5 633.5,202.4 629.5,204.3C625.5,206.2 620.7,208.5 616.3,209.6C611.9,210.7 607.6,210.9 603.2,210.9C598.8,210.9 595.0,210.8 590.0,209.8C585.0,208.8 578.2,207.1 573.2,205.0C568.2,202.9 564.1,199.7 559.9,197.5C555.7,195.3 551.5,192.9 548.2,191.7C544.9,190.5 542.3,190.4 539.9,190.5C537.5,190.6 535.5,191.7 533.6,192.0C531.7,192.3 531.1,191.4 528.3,192.5C525.5,193.6 520.8,196.1 516.6,198.3C512.4,200.5 506.6,204.1 503.3,205.8C500.0,207.5 500.1,207.4 496.8,208.3C493.6,209.2 488.9,211.2 483.8,211.3C478.7,211.4 471.2,210.2 466.3,209.1C461.4,208.0 458.8,206.3 454.6,204.7C450.5,203.1 445.7,201.8 441.4,199.6C437.1,197.4 432.8,194.8 429.0,191.4C425.2,188.0 421.7,183.5 418.6,179.0C415.5,174.5 412.5,169.3 410.3,164.5C408.1,159.7 406.4,154.9 405.2,150.0C404.0,145.1 403.3,140.3 403.0,135.0C402.7,129.7 403.2,123.3 403.3,118.0Z" fill="none" stroke="#111" stroke-width="1.0" />
<path d="M408.2,118.0C408.2,112.5 408.2,107.0 408.6,103.0C409.0,99.0 409.6,97.2 410.3,94.0C411.0,90.8 411.7,87.6 412.8,84.0C413.9,80.4 414.9,76.5 417.0,72.3C419.1,68.1 422.2,62.7 425.3,59.0C428.4,55.3 431.7,52.6 435.3,49.9C438.9,47.1 442.2,44.7 446.9,42.5C451.6,40.3 458.6,37.8 463.6,36.6C468.6,35.4 472.8,35.3 476.9,35.3C481.0,35.2 485.0,35.4 488.5,36.3C492.0,37.2 494.9,39.2 497.7,40.8C500.5,42.4 503.0,44.2 505.2,45.8C507.4,47.4 509.4,48.5 511.0,50.5C512.6,52.5 513.0,54.6 515.0,58.0C517.0,61.4 519.1,67.6 523.3,70.6C527.4,73.6 534.9,75.6 539.9,76.0C544.9,76.4 549.3,74.8 553.2,73.1C557.1,71.4 560.7,68.0 563.2,65.7C565.7,63.4 566.4,61.9 568.2,59.0C570.0,56.1 571.8,51.0 574.2,48.3C576.6,45.5 580.2,44.0 582.6,42.5C585.0,41.0 586.2,40.1 588.4,39.1C590.6,38.1 592.8,36.9 596.0,36.3C599.2,35.7 603.4,35.2 607.6,35.5C611.8,35.8 617.3,37.2 621.0,38.3C624.7,39.4 626.3,40.4 630.0,42.0C633.7,43.6 639.2,45.4 643.2,47.9C647.2,50.4 650.6,53.8 653.7,57.1C656.8,60.4 659.5,64.3 661.6,67.6C663.7,70.9 665.2,73.9 666.5,77.0C667.8,80.1 668.6,82.7 669.5,86.0C670.4,89.3 671.1,93.7 671.8,97.0C672.5,100.3 673.1,102.7 673.5,106.0C673.9,109.3 674.2,112.0 674.3,116.6C674.3,121.1 674.1,128.7 673.8,133.3C673.5,137.9 673.0,141.2 672.5,144.0C672.0,146.8 671.6,147.3 670.8,150.0C670.0,152.7 669.4,156.4 667.5,160.3C665.6,164.2 661.6,169.9 659.2,173.6C656.8,177.3 656.0,180.0 653.2,182.6C650.4,185.2 646.6,187.2 642.6,189.2C638.6,191.2 633.9,192.8 629.5,194.5C625.1,196.2 620.7,198.7 616.3,199.7C611.9,200.7 607.6,200.7 603.2,200.4C598.8,200.1 593.7,199.0 590.0,197.8C586.3,196.6 583.2,194.9 581.0,193.3C578.8,191.7 578.2,189.6 576.5,188.0C574.8,186.4 572.4,185.2 571.0,183.6C569.6,182.0 570.1,181.1 568.2,178.6C566.4,176.1 563.0,171.5 559.9,168.6C556.8,165.7 553.2,162.6 549.9,161.1C546.6,159.6 543.2,159.3 539.9,159.5C536.6,159.7 532.9,160.5 530.0,162.0C527.1,163.5 525.0,166.1 522.5,168.6C520.0,171.1 517.1,174.3 515.0,177.0C512.9,179.7 512.3,182.3 510.0,185.0C507.7,187.7 504.4,190.7 501.3,193.0C498.2,195.3 495.2,197.6 491.1,198.9C487.0,200.2 481.4,200.9 476.5,200.8C471.6,200.7 466.7,199.6 461.9,198.4C457.1,197.2 452.1,195.4 447.6,193.4C443.2,191.4 439.0,188.9 435.2,186.2C431.4,183.4 428.1,180.5 424.8,176.9C421.5,173.3 417.8,168.2 415.5,164.5C413.2,160.8 412.0,157.9 411.0,155.0C410.0,152.1 409.9,150.2 409.5,147.0C409.1,143.8 408.7,140.8 408.5,136.0C408.3,131.2 408.2,123.5 408.2,118.0Z" fill="none" stroke="#111" stroke-width="1.0" />
<path d="M424.0,118.0C423.9,114.0 423.8,113.1 424.0,110.1C424.2,107.1 424.5,103.3 425.0,100.0C425.5,96.7 426.0,92.7 426.9,90.0C427.8,87.3 428.6,86.2 430.3,84.0C432.0,81.8 433.7,78.6 437.0,76.5C440.3,74.4 445.9,72.2 450.3,71.5C454.7,70.8 459.7,71.0 463.6,72.3C467.5,73.5 471.1,76.2 473.6,79.0C476.1,81.8 477.3,85.5 478.5,89.0C479.7,92.5 480.2,96.5 480.6,100.0C481.0,103.5 480.8,106.3 480.9,110.0C480.9,113.7 480.9,118.2 480.9,122.0C480.9,125.8 481.1,129.1 480.9,132.6C480.7,136.1 480.2,140.1 479.5,143.0C478.8,145.9 478.2,148.0 476.9,150.3C475.6,152.6 474.1,154.8 471.9,157.0C469.7,159.2 466.9,162.3 463.6,163.6C460.3,164.8 455.8,164.8 451.9,164.5C448.0,164.2 443.9,163.5 440.3,162.0C436.7,160.5 432.5,157.6 430.3,155.3C428.1,153.0 427.9,151.6 426.9,148.0C425.9,144.4 424.9,139.0 424.4,134.0C423.9,129.0 424.1,122.0 424.0,118.0Z" fill="none" stroke="#111" stroke-width="1.0" />
<path d="M429.0,118.0C429.0,114.0 429.0,109.7 429.4,106.3C429.8,102.9 430.4,100.2 431.3,97.5C432.2,94.8 433.1,92.5 435.1,90.0C437.2,87.5 440.8,83.7 443.6,82.3C446.4,80.9 449.1,81.4 451.9,81.5C454.7,81.6 458.0,81.7 460.2,83.1C462.4,84.5 463.7,87.2 465.2,90.0C466.7,92.8 468.3,96.7 469.0,100.0C469.7,103.3 469.5,106.3 469.6,110.1C469.7,113.9 469.6,119.2 469.6,123.0C469.6,126.8 469.8,129.8 469.6,132.6C469.4,135.4 469.1,137.9 468.4,140.1C467.7,142.3 466.9,144.1 465.5,146.0C464.1,147.9 461.4,150.2 460.0,151.5C458.6,152.8 459.1,153.3 456.9,153.7C454.7,154.1 450.2,154.4 446.9,154.0C443.6,153.6 439.4,152.7 437.0,151.2C434.6,149.7 433.9,148.5 432.6,145.0C431.3,141.5 430.0,134.5 429.4,130.0C428.8,125.5 429.0,122.0 429.0,118.0Z" fill="none" stroke="#111" stroke-width="1.0" />
<path d="M601.5,118.0C601.5,112.5 601.6,104.7 601.8,100.0C602.0,95.3 602.0,93.0 602.5,90.0C603.0,87.0 603.6,84.4 605.0,82.0C606.4,79.6 607.8,77.3 611.0,75.6C614.2,73.8 619.9,71.9 624.3,71.5C628.7,71.1 633.7,71.6 637.6,73.1C641.5,74.6 645.1,77.4 647.6,80.6C650.1,83.8 651.1,88.6 652.5,92.3C653.9,96.0 655.0,99.0 655.9,103.0C656.8,107.0 657.7,111.5 657.8,116.6C657.9,121.6 657.3,128.7 656.7,133.3C656.1,137.9 655.5,140.3 654.2,144.0C653.0,147.7 651.4,152.2 649.2,155.3C647.0,158.4 644.2,161.2 640.9,162.8C637.6,164.4 633.1,165.0 629.2,165.0C625.3,165.0 621.2,164.4 617.6,162.8C614.0,161.2 610.1,157.9 607.6,155.3C605.1,152.7 603.6,150.7 602.6,147.0C601.6,143.3 602.0,138.1 601.8,133.3C601.6,128.5 601.5,123.5 601.5,118.0Z" fill="none" stroke="#111" stroke-width="1.0" />
<path d="M612.0,118.0C612.1,113.0 612.2,104.5 612.6,100.0C613.0,95.5 613.2,93.4 614.3,91.0C615.4,88.6 616.9,87.0 619.0,85.5C621.1,84.0 623.8,82.6 627.1,82.1C630.4,81.6 635.9,81.3 639.0,82.6C642.1,83.9 644.1,87.1 645.9,90.0C647.6,92.9 648.4,96.2 649.5,100.0C650.6,103.8 651.8,108.8 652.3,113.0C652.8,117.2 652.4,121.3 652.2,125.0C652.0,128.7 652.0,131.3 651.2,135.0C650.4,138.7 649.3,144.2 647.6,147.0C645.9,149.8 643.7,150.8 640.9,152.0C638.1,153.2 634.2,154.1 630.9,154.0C627.6,153.9 623.5,152.4 621.0,151.2C618.5,150.0 617.4,148.9 616.0,147.0C614.6,145.1 613.3,142.8 612.6,140.0C611.9,137.2 612.1,133.7 612.0,130.0C611.9,126.3 611.9,123.0 612.0,118.0Z" fill="none" stroke="#111" stroke-width="1.0" />
<path d="M500.6,118.0C500.6,113.0 500.9,107.8 500.8,103.0C500.7,98.2 500.3,93.6 500.0,89.0C499.7,84.4 499.8,79.2 499.2,75.6C498.6,72.0 498.1,69.8 496.7,67.3C495.2,64.8 492.7,62.5 490.5,60.5C488.3,58.5 486.2,56.6 483.3,55.4C480.4,54.2 476.7,53.6 473.0,53.2C469.3,52.8 464.9,52.8 461.3,53.2C457.7,53.6 454.8,54.3 451.1,55.4C447.4,56.5 443.0,57.7 439.3,59.8C435.6,61.9 431.8,65.1 429.1,68.0C426.4,70.9 424.8,73.5 423.0,77.0C421.2,80.5 419.8,85.0 418.6,89.0C417.4,93.0 416.5,96.2 416.0,101.0C415.5,105.8 415.5,112.7 415.5,118.0C415.5,123.3 415.6,128.2 416.1,133.0C416.6,137.8 417.7,143.5 418.6,147.0C419.5,150.5 420.1,151.4 421.5,154.0C422.9,156.6 424.6,159.6 426.9,162.4C429.2,165.2 432.1,168.1 435.2,170.7C438.3,173.3 442.4,176.0 445.5,177.9C448.6,179.8 450.2,181.2 453.8,182.0C457.4,182.8 462.5,183.2 466.9,183.0C471.3,182.8 476.0,182.3 480.2,181.0C484.4,179.7 488.8,177.9 491.9,175.3C494.9,172.7 497.0,169.2 498.5,165.3C500.0,161.4 500.4,157.4 500.8,152.0C501.2,146.6 500.8,138.7 500.8,133.0C500.8,127.3 500.6,123.0 500.6,118.0Z" fill="none" stroke="#111" stroke-width="1.6" />
<path d="M582.6,118.0C582.4,113.5 581.7,107.8 581.5,103.0C581.3,98.2 581.4,93.5 581.5,89.0C581.6,84.5 581.5,79.8 582.0,76.0C582.5,72.2 582.9,69.2 584.3,66.5C585.7,63.8 587.9,61.3 590.5,59.5C593.1,57.7 596.3,56.6 600.0,55.8C603.7,55.0 608.4,54.6 612.6,54.6C616.8,54.6 621.4,54.9 625.0,55.5C628.6,56.1 630.8,57.0 634.0,58.5C637.2,60.0 640.8,62.1 644.0,64.5C647.2,66.9 650.8,69.3 653.5,72.8C656.2,76.3 658.6,81.0 660.5,85.5C662.4,90.0 664.0,94.8 665.0,100.0C666.0,105.2 666.4,111.0 666.5,116.6C666.6,122.1 665.9,128.2 665.4,133.3C664.9,138.4 664.4,143.2 663.4,147.0C662.4,150.8 661.6,152.4 659.2,155.8C656.8,159.2 652.8,164.2 649.2,167.5C645.6,170.8 642.3,173.4 637.6,175.8C632.9,178.2 626.5,180.8 621.0,182.0C615.5,183.2 609.3,183.4 604.3,182.8C599.3,182.2 594.2,180.3 591.0,178.3C587.8,176.3 586.4,173.9 585.0,171.0C583.6,168.1 583.0,165.0 582.6,161.0C582.2,157.0 582.4,152.2 582.4,147.0C582.4,141.8 582.6,134.8 582.6,130.0C582.6,125.2 582.8,122.5 582.6,118.0Z" fill="none" stroke="#111" stroke-width="1.6" />
<path d="M503.5,100.0C503.7,101.3 503.8,105.8 504.5,108.0C505.2,110.2 505.9,112.1 507.5,113.2C509.1,114.3 508.6,114.5 514.0,114.8C519.4,115.1 531.5,115.3 540.0,115.3C548.5,115.3 559.3,115.1 564.7,114.8C570.1,114.5 570.6,114.1 572.6,113.4C574.6,112.7 575.7,112.1 576.6,110.5C577.5,108.9 577.6,105.8 577.9,104.0C578.2,102.2 578.4,100.7 578.5,100.0" fill="none" stroke="#111" stroke-width="1.0" />
<path d="M503.5,136.0C503.7,134.7 503.8,130.2 504.5,128.0C505.2,125.8 505.9,123.9 507.5,122.8C509.1,121.7 508.6,121.5 514.0,121.2C519.4,120.9 531.5,120.7 540.0,120.7C548.5,120.7 559.3,120.9 564.7,121.2C570.1,121.5 570.6,121.9 572.6,122.6C574.6,123.3 575.7,123.9 576.6,125.5C577.5,127.1 577.6,130.2 577.9,132.0C578.2,133.8 578.4,135.3 578.5,136.0" fill="none" stroke="#111" stroke-width="1.0" />
<text x="459.1" y="55.5" transform="rotate(0 459.1 55.5)" class="cl s">100</text>
<text x="420.7" y="154.1" transform="rotate(-60 420.7 154.1)" class="cl s">100</text>
<text x="452.7" y="183.1" transform="rotate(20 452.7 183.1)" class="cl s">100</text>
<text x="495.7" y="148.6" transform="rotate(-90 495.7 148.6)" class="cl s">100</text>
<text x="573.2" y="125" transform="rotate(40 573.2 125)" class="cl s">100</text>
<text x="583" y="102" transform="rotate(-90 583 102)" class="cl s">100</text>
<text x="498" y="72" transform="rotate(80 498 72)" class="cl s">100</text>
<text x="496" y="173.5" transform="rotate(-55 496 173.5)" class="cl s">100</text>
<path d="M500.6,118.0L500.6,117.1L500.6,116.2L500.6,115.3L500.6,114.4L500.7,113.5L500.7,112.6L500.7,111.6L500.7,111.0M500.8,106.2L500.8,105.3L500.8,104.5L500.8,103.6L500.8,102.7L500.8,101.7L500.7,100.8L500.7,99.9L500.6,99.0L500.6,98.0L500.5,97.1L500.5,96.2L500.4,95.3L500.4,94.4L500.3,93.5L500.2,92.6M499.9,86.8L499.9,85.8L499.8,84.8L499.8,83.9L499.7,82.9L499.7,81.9L499.7,81.0L499.6,80.1L499.6,79.2L499.5,78.3L499.4,77.4L499.3,76.6L499.3,76.1M498.6,72.2L498.4,71.3L498.1,70.5L497.8,69.7L497.5,68.9L497.1,68.1L496.7,67.3L496.2,66.6L495.7,65.8L495.1,65.1L494.5,64.4L493.9,63.7L493.2,63.0L492.6,62.4M489.8,59.9L489.1,59.3L488.4,58.7L487.7,58.1L487.0,57.6L486.3,57.0L485.5,56.6L484.7,56.1L483.9,55.7L483.0,55.3L482.3,55.0L481.5,54.7L480.6,54.5L479.8,54.3L478.9,54.1L478.0,53.9L477.1,53.7L476.1,53.6L475.2,53.5L474.3,53.3L473.3,53.2L472.4,53.1L471.5,53.1L470.6,53.0L469.7,53.0M464.6,53.0L463.7,53.0L462.8,53.1L461.9,53.1L461.0,53.2L460.0,53.3L459.1,53.5L458.2,53.6L457.4,53.8L456.5,54.0L455.6,54.2L454.8,54.4L453.9,54.6L453.0,54.9L452.1,55.1M447.7,56.4L446.8,56.7L445.9,57.0L445.1,57.3L444.2,57.6L443.3,57.9L442.4,58.3L441.5,58.7L440.7,59.1L439.8,59.5L439.0,59.9L438.3,60.4L437.5,60.9L436.7,61.4L436.0,62.0L435.2,62.5L434.5,63.1L433.7,63.7L433.0,64.3L432.3,64.9L431.6,65.5L430.9,66.2L430.3,66.8L429.7,67.4L429.1,68.0L428.4,68.7L428.0,69.2M425.2,73.0L424.8,73.7L424.3,74.5L423.9,75.3L423.4,76.1L423.0,77.0L422.6,77.8L422.3,78.6L421.9,79.4L421.6,80.2L421.2,81.1L420.9,81.9L420.6,82.8L420.4,83.4M418.7,88.7L418.4,89.6L418.2,90.5L417.9,91.3L417.7,92.2L417.5,93.0L417.3,93.8L417.1,94.7L416.9,95.5L416.7,96.4L416.5,97.3L416.4,98.3L416.2,99.3L416.1,100.3L416.0,101.3L415.9,102.1L415.8,102.9L415.8,103.8L415.7,104.6L415.7,105.6L415.6,106.5M415.5,112.8L415.5,113.8L415.5,114.7L415.5,115.6L415.5,116.5L415.5,117.4L415.5,118.3L415.5,119.3L415.5,120.2L415.5,121.1L415.5,122.1M415.7,126.9L415.7,127.8L415.7,128.6L415.8,129.5L415.9,130.4L415.9,131.3L416.0,132.1L416.1,133.0L416.2,133.9L416.3,134.9L416.5,135.8L416.6,136.8L416.7,137.8L416.9,138.8L417.1,139.7L417.2,140.7L417.4,141.6L417.6,142.5L417.8,143.4L417.9,144.2L418.1,145.0L418.3,145.8L418.5,146.5L418.7,147.4M420.9,152.9L421.3,153.7L421.8,154.5L422.2,155.2L422.6,155.9L423.0,156.7L423.5,157.5L423.9,158.2L424.4,159.0L425.0,159.8L425.5,160.6L426.1,161.4L426.7,162.1L427.3,162.8L427.8,163.5L428.4,164.1L429.0,164.8L429.6,165.4L430.2,166.1L430.9,166.7L431.5,167.4L432.2,168.0L432.9,168.7L433.6,169.3L434.3,169.9L434.7,170.3M437.4,172.4L438.1,173.0L438.9,173.5L439.7,174.1L440.5,174.7L441.3,175.2L442.1,175.7L442.8,176.2L443.6,176.7L444.3,177.2L445.0,177.6L445.8,178.1L446.7,178.6L447.5,179.1M450.8,181.0L451.6,181.3L452.5,181.6L453.4,181.9L454.3,182.1L455.1,182.3L455.9,182.4L456.8,182.5L457.7,182.7L458.6,182.8L459.6,182.8L460.5,182.9L461.2,183.0M467.5,183.0L468.4,182.9L469.3,182.9L470.2,182.8L471.2,182.7L472.1,182.6L473.0,182.5L473.9,182.4L474.9,182.2L475.8,182.1L476.7,181.9L477.6,181.7L478.5,181.5L479.3,181.3L480.2,181.0L481.1,180.7L482.0,180.4L482.8,180.1L483.7,179.8L484.0,179.7M489.6,177.0L490.3,176.5L491.0,176.0L491.7,175.5L492.4,174.9L493.0,174.3L493.7,173.6L494.3,172.9L494.8,172.2L495.4,171.4L495.9,170.6L496.4,169.9L496.8,169.0L497.2,168.2L497.6,167.4L498.0,166.5M499.7,160.9L499.9,160.1L500.1,159.2L500.2,158.3L500.3,157.4L500.4,156.4L500.5,155.5L500.6,154.5L500.7,153.4L500.8,152.4L500.8,151.5L500.9,150.7L500.9,149.8L500.9,149.0L501.0,148.1L501.0,147.2L501.0,146.3L501.0,145.9M500.9,142.1L500.9,141.2L500.9,140.2L500.9,139.2L500.9,138.3L500.9,137.4L500.8,136.5L500.8,135.6L500.8,134.7L500.8,133.8L500.8,133.0L500.8,132.0L500.8,131.0L500.8,130.1L500.8,129.1L500.7,128.2L500.7,127.3L500.7,126.4L500.7,125.5L500.7,124.7L500.7,123.8L500.6,122.9L500.6,122.1L500.6,121.8" fill="none" stroke="#ff00ff" stroke-width="3.6" stroke-linejoin="round"/>
<path d="M498.4 116.0l4.0 4.0m0 -4.0l-4.0 4.0M498.5 114.9l3.8 3.8m0 -3.8l-3.8 3.8M498.1 113.7l3.8 3.8m0 -3.8l-3.8 3.8M498.3 112.4l3.9 3.9m0 -3.9l-3.9 3.9M498.9 111.3l3.8 3.8m0 -3.8l-3.8 3.8M499.0 109.9l4.1 4.1m0 -4.1l-4.1 4.1M499.1 103.9l4.1 4.1m0 -4.1l-4.1 4.1M499.3 102.9l3.7 3.7m0 -3.7l-3.7 3.7M498.7 101.7l3.9 3.9m0 -3.9l-3.9 3.9M498.0 100.1l4.6 4.6m0 -4.6l-4.6 4.6M498.3 99.1l4.0 4.0m0 -4.0l-4.0 4.0M498.2 97.6l4.6 4.6m0 -4.6l-4.6 4.6M499.0 96.7l3.8 3.8m0 -3.8l-3.8 3.8M499.1 95.1l4.5 4.5m0 -4.5l-4.5 4.5M498.5 93.9l4.5 4.5m0 -4.5l-4.5 4.5M498.1 93.2l3.7 3.7m0 -3.7l-3.7 3.7M497.4 91.6l4.5 4.5m0 -4.5l-4.5 4.5M497.9 90.5l4.2 4.2m0 -4.2l-4.2 4.2M497.7 84.5l3.9 3.9m0 -3.9l-3.9 3.9M497.5 82.9l4.5 4.5m0 -4.5l-4.5 4.5M496.6 81.6l4.6 4.6m0 -4.6l-4.6 4.6M497.9 80.7l3.7 3.7m0 -3.7l-3.7 3.7M498.4 79.5l3.6 3.6m0 -3.6l-3.6 3.6M497.5 78.1l4.0 4.0m0 -4.0l-4.0 4.0M497.0 77.0l3.7 3.7m0 -3.7l-3.7 3.7M496.9 75.9l3.8 3.8m0 -3.8l-3.8 3.8M498.0 74.7l3.8 3.8m0 -3.8l-3.8 3.8M495.8 70.4l4.0 4.0m0 -4.0l-4.0 4.0M496.2 69.2l3.8 3.8m0 -3.8l-3.8 3.8M495.8 67.6l4.5 4.5m0 -4.5l-4.5 4.5M495.0 67.4l3.6 3.6m0 -3.6l-3.6 3.6M494.9 66.1l3.7 3.7m0 -3.7l-3.7 3.7M493.9 65.2l3.9 3.9m0 -3.9l-3.9 3.9M493.4 63.9l4.2 4.2m0 -4.2l-4.2 4.2M492.7 63.0l4.0 4.0m0 -4.0l-4.0 4.0M491.7 62.1l4.2 4.2m0 -4.2l-4.2 4.2M491.1 60.8l4.4 4.4m0 -4.4l-4.4 4.4M488.3 57.2l3.8 3.8m0 -3.8l-3.8 3.8M486.8 56.7l4.0 4.0m0 -4.0l-4.0 4.0M485.8 56.0l4.0 4.0m0 -4.0l-4.0 4.0M485.4 55.0l3.7 3.7m0 -3.7l-3.7 3.7M483.7 54.4l4.4 4.4m0 -4.4l-4.4 4.4M483.0 53.6l4.0 4.0m0 -4.0l-4.0 4.0M481.8 53.5l3.7 3.7m0 -3.7l-3.7 3.7M480.6 52.1l4.4 4.4m0 -4.4l-4.4 4.4M479.2 52.5l4.6 4.6m0 -4.6l-4.6 4.6M478.7 51.5l3.7 3.7m0 -3.7l-3.7 3.7M476.8 52.2l4.5 4.5m0 -4.5l-4.5 4.5M476.0 52.5l3.7 3.7m0 -3.7l-3.7 3.7M474.9 51.1l3.9 3.9m0 -3.9l-3.9 3.9M473.3 50.9l4.5 4.5m0 -4.5l-4.5 4.5M472.4 51.0l3.8 3.8m0 -3.8l-3.8 3.8M471.1 51.4l3.8 3.8m0 -3.8l-3.8 3.8M469.6 50.7l4.6 4.6m0 -4.6l-4.6 4.6M468.4 50.6l4.4 4.4m0 -4.4l-4.4 4.4M462.3 51.1l4.1 4.1m0 -4.1l-4.1 4.1M461.0 51.6l4.2 4.2m0 -4.2l-4.2 4.2M459.6 50.1l4.5 4.5m0 -4.5l-4.5 4.5M458.6 50.6l4.0 4.0m0 -4.0l-4.0 4.0M457.5 51.5l3.8 3.8m0 -3.8l-3.8 3.8M456.1 51.8l4.4 4.4m0 -4.4l-4.4 4.4M455.2 52.2l3.8 3.8m0 -3.8l-3.8 3.8M453.8 51.3l3.8 3.8m0 -3.8l-3.8 3.8M452.4 51.8l4.6 4.6m0 -4.6l-4.6 4.6M451.9 53.1l3.6 3.6m0 -3.6l-3.6 3.6M450.6 53.5l3.7 3.7m0 -3.7l-3.7 3.7M445.6 54.7l4.5 4.5m0 -4.5l-4.5 4.5M444.6 54.6l3.8 3.8m0 -3.8l-3.8 3.8M443.4 55.2l3.9 3.9m0 -3.9l-3.9 3.9M442.2 55.6l3.9 3.9m0 -3.9l-3.9 3.9M441.3 56.7l3.8 3.8m0 -3.8l-3.8 3.8M439.9 56.8l4.1 4.1m0 -4.1l-4.1 4.1M438.7 56.9l3.7 3.7m0 -3.7l-3.7 3.7M437.5 57.7l4.2 4.2m0 -4.2l-4.2 4.2M436.6 58.2l3.8 3.8m0 -3.8l-3.8 3.8M435.7 59.2l4.2 4.2m0 -4.2l-4.2 4.2M434.7 59.9l4.0 4.0m0 -4.0l-4.0 4.0M432.9 59.7l4.3 4.3m0 -4.3l-4.3 4.3M432.3 61.0l4.1 4.1m0 -4.1l-4.1 4.1M431.6 62.1l3.8 3.8m0 -3.8l-3.8 3.8M430.4 62.6l4.1 4.1m0 -4.1l-4.1 4.1M429.8 63.7l3.7 3.7m0 -3.7l-3.7 3.7M428.9 64.6l4.2 4.2m0 -4.2l-4.2 4.2M428.3 65.6l3.8 3.8m0 -3.8l-3.8 3.8M426.9 65.8l4.5 4.5m0 -4.5l-4.5 4.5M426.0 66.7l4.3 4.3m0 -4.3l-4.3 4.3M422.3 71.5l4.1 4.1m0 -4.1l-4.1 4.1M422.7 73.1l4.0 4.0m0 -4.0l-4.0 4.0M421.5 73.9l3.6 3.6m0 -3.6l-3.6 3.6M420.6 74.7l4.4 4.4m0 -4.4l-4.4 4.4M420.2 75.9l3.8 3.8m0 -3.8l-3.8 3.8M420.6 77.3l4.0 4.0m0 -4.0l-4.0 4.0M419.8 78.2l4.2 4.2m0 -4.2l-4.2 4.2M419.3 79.5l3.8 3.8m0 -3.8l-3.8 3.8M418.4 80.5l3.8 3.8m0 -3.8l-3.8 3.8M416.1 87.3l4.6 4.6m0 -4.6l-4.6 4.6M416.6 88.9l3.9 3.9m0 -3.9l-3.9 3.9M414.6 89.4l4.5 4.5m0 -4.5l-4.5 4.5M415.4 90.8l4.6 4.6m0 -4.6l-4.6 4.6M415.6 92.1l4.5 4.5m0 -4.5l-4.5 4.5M414.4 93.0l4.3 4.3m0 -4.3l-4.3 4.3M415.1 94.6l3.9 3.9m0 -3.9l-3.9 3.9M414.3 95.4l4.5 4.5m0 -4.5l-4.5 4.5M414.6 97.1l3.6 3.6m0 -3.6l-3.6 3.6M413.9 98.0l3.7 3.7m0 -3.7l-3.7 3.7M414.4 99.2l3.6 3.6m0 -3.6l-3.6 3.6M414.2 99.9l4.3 4.3m0 -4.3l-4.3 4.3M414.3 101.1l4.2 4.2m0 -4.2l-4.2 4.2M413.1 102.1l4.5 4.5m0 -4.5l-4.5 4.5M414.3 103.3l4.5 4.5m0 -4.5l-4.5 4.5M413.4 111.2l3.8 3.8m0 -3.8l-3.8 3.8M413.8 112.6l3.6 3.6m0 -3.6l-3.6 3.6M413.0 113.4l4.4 4.4m0 -4.4l-4.4 4.4M414.2 114.9l3.9 3.9m0 -3.9l-3.9 3.9M412.9 116.1l3.8 3.8m0 -3.8l-3.8 3.8M413.0 117.3l4.0 4.0m0 -4.0l-4.0 4.0M413.4 118.4l4.3 4.3m0 -4.3l-4.3 4.3M413.2 119.8l3.9 3.9m0 -3.9l-3.9 3.9M414.6 125.6l4.2 4.2m0 -4.2l-4.2 4.2M413.8 126.9l4.0 4.0m0 -4.0l-4.0 4.0M413.6 127.9l4.3 4.3m0 -4.3l-4.3 4.3M414.5 129.3l3.8 3.8m0 -3.8l-3.8 3.8M413.4 130.6l3.7 3.7m0 -3.7l-3.7 3.7M413.8 131.8l3.8 3.8m0 -3.8l-3.8 3.8M414.2 132.8l4.1 4.1m0 -4.1l-4.1 4.1M414.3 134.0l4.4 4.4m0 -4.4l-4.4 4.4M414.9 135.2l4.4 4.4m0 -4.4l-4.4 4.4M414.6 136.5l4.6 4.6m0 -4.6l-4.6 4.6M414.9 138.0l4.1 4.1m0 -4.1l-4.1 4.1M414.5 139.3l4.2 4.2m0 -4.2l-4.2 4.2M415.2 140.3l4.4 4.4m0 -4.4l-4.4 4.4M416.6 141.5l3.9 3.9m0 -3.9l-3.9 3.9M417.0 142.8l3.7 3.7m0 -3.7l-3.7 3.7M415.9 144.2l3.6 3.6m0 -3.6l-3.6 3.6M416.6 144.9l4.1 4.1m0 -4.1l-4.1 4.1M417.8 151.4l4.5 4.5m0 -4.5l-4.5 4.5M420.0 151.8l4.4 4.4m0 -4.4l-4.4 4.4M419.9 153.1l4.2 4.2m0 -4.2l-4.2 4.2M420.6 153.9l4.5 4.5m0 -4.5l-4.5 4.5M420.9 155.2l4.3 4.3m0 -4.3l-4.3 4.3M422.5 155.7l4.2 4.2m0 -4.2l-4.2 4.2M422.3 157.4l4.1 4.1m0 -4.1l-4.1 4.1M423.4 158.4l3.9 3.9m0 -3.9l-3.9 3.9M423.6 159.3l4.5 4.5m0 -4.5l-4.5 4.5M424.8 160.6l3.9 3.9m0 -3.9l-3.9 3.9M425.5 161.6l3.7 3.7m0 -3.7l-3.7 3.7M425.8 162.3l4.3 4.3m0 -4.3l-4.3 4.3M426.0 163.6l4.6 4.6m0 -4.6l-4.6 4.6M428.6 162.9l4.4 4.4m0 -4.4l-4.4 4.4M428.2 165.4l4.0 4.0m0 -4.0l-4.0 4.0M429.9 165.6l3.8 3.8m0 -3.8l-3.8 3.8M431.0 166.5l3.6 3.6m0 -3.6l-3.6 3.6M431.4 167.4l4.1 4.1m0 -4.1l-4.1 4.1M432.9 167.5l4.1 4.1m0 -4.1l-4.1 4.1M435.4 169.9l4.3 4.3m0 -4.3l-4.3 4.3M436.6 170.9l4.0 4.0m0 -4.0l-4.0 4.0M437.5 172.0l3.8 3.8m0 -3.8l-3.8 3.8M438.5 172.0l4.5 4.5m0 -4.5l-4.5 4.5M439.6 173.0l4.3 4.3m0 -4.3l-4.3 4.3M441.1 173.3l4.0 4.0m0 -4.0l-4.0 4.0M441.7 174.6l4.0 4.0m0 -4.0l-4.0 4.0M442.5 175.0l4.3 4.3m0 -4.3l-4.3 4.3M443.5 175.9l4.0 4.0m0 -4.0l-4.0 4.0M444.1 176.9l4.0 4.0m0 -4.0l-4.0 4.0M445.2 177.2l4.3 4.3m0 -4.3l-4.3 4.3M449.6 179.2l4.0 4.0m0 -4.0l-4.0 4.0M450.7 179.8l4.1 4.1m0 -4.1l-4.1 4.1M451.6 179.8l4.4 4.4m0 -4.4l-4.4 4.4M452.8 179.9l4.2 4.2m0 -4.2l-4.2 4.2M453.8 180.2l4.3 4.3m0 -4.3l-4.3 4.3M455.1 179.9l4.1 4.1m0 -4.1l-4.1 4.1M456.1 179.7l4.6 4.6m0 -4.6l-4.6 4.6M457.4 180.5l4.4 4.4m0 -4.4l-4.4 4.4M458.6 180.2l4.6 4.6m0 -4.6l-4.6 4.6M466.4 181.3l4.0 4.0m0 -4.0l-4.0 4.0M467.6 181.0l4.0 4.0m0 -4.0l-4.0 4.0M468.9 180.7l3.8 3.8m0 -3.8l-3.8 3.8M469.9 180.0l4.3 4.3m0 -4.3l-4.3 4.3M471.1 179.9l4.4 4.4m0 -4.4l-4.4 4.4M472.7 180.3l3.8 3.8m0 -3.8l-3.8 3.8M473.7 180.1l4.2 4.2m0 -4.2l-4.2 4.2M474.7 178.9l4.2 4.2m0 -4.2l-4.2 4.2M476.2 179.9l4.2 4.2m0 -4.2l-4.2 4.2M477.1 178.9l4.4 4.4m0 -4.4l-4.4 4.4M478.6 178.9l3.7 3.7m0 -3.7l-3.7 3.7M479.9 179.1l3.9 3.9m0 -3.9l-3.9 3.9M480.9 178.2l3.8 3.8m0 -3.8l-3.8 3.8M482.3 178.3l3.8 3.8m0 -3.8l-3.8 3.8M487.6 175.0l3.8 3.8m0 -3.8l-3.8 3.8M488.3 174.0l4.1 4.1m0 -4.1l-4.1 4.1M489.2 173.3l4.0 4.0m0 -4.0l-4.0 4.0M489.8 172.2l4.5 4.5m0 -4.5l-4.5 4.5M491.4 172.2l4.4 4.4m0 -4.4l-4.4 4.4M491.1 170.3l4.4 4.4m0 -4.4l-4.4 4.4M492.6 169.9l4.6 4.6m0 -4.6l-4.6 4.6M493.6 169.2l3.8 3.8m0 -3.8l-3.8 3.8M494.2 168.0l4.4 4.4m0 -4.4l-4.4 4.4M495.2 167.3l3.7 3.7m0 -3.7l-3.7 3.7M495.2 165.7l4.5 4.5m0 -4.5l-4.5 4.5M495.4 164.5l4.4 4.4m0 -4.4l-4.4 4.4M498.4 158.0l4.5 4.5m0 -4.5l-4.5 4.5M497.4 156.7l4.3 4.3m0 -4.3l-4.3 4.3M498.0 155.5l4.5 4.5m0 -4.5l-4.5 4.5M498.0 154.5l3.8 3.8m0 -3.8l-3.8 3.8M499.1 153.4l3.6 3.6m0 -3.6l-3.6 3.6M499.2 152.3l3.7 3.7m0 -3.7l-3.7 3.7M497.9 150.8l4.5 4.5m0 -4.5l-4.5 4.5M498.6 149.8l4.5 4.5m0 -4.5l-4.5 4.5M498.0 148.7l4.5 4.5m0 -4.5l-4.5 4.5M498.6 147.8l4.0 4.0m0 -4.0l-4.0 4.0M499.5 146.6l4.2 4.2m0 -4.2l-4.2 4.2M499.2 145.4l4.2 4.2m0 -4.2l-4.2 4.2M499.1 144.0l4.6 4.6m0 -4.6l-4.6 4.6M498.7 139.1l4.1 4.1m0 -4.1l-4.1 4.1M499.6 137.8l4.2 4.2m0 -4.2l-4.2 4.2M498.8 136.4l4.5 4.5m0 -4.5l-4.5 4.5M498.1 135.2l4.4 4.4m0 -4.4l-4.4 4.4M498.9 134.1l4.0 4.0m0 -4.0l-4.0 4.0M498.0 133.0l3.9 3.9m0 -3.9l-3.9 3.9M498.5 131.8l4.0 4.0m0 -4.0l-4.0 4.0M498.4 130.4l4.6 4.6m0 -4.6l-4.6 4.6M499.2 129.1l4.4 4.4m0 -4.4l-4.4 4.4M498.5 128.0l4.2 4.2m0 -4.2l-4.2 4.2M498.9 126.6l4.4 4.4m0 -4.4l-4.4 4.4M498.5 125.5l4.1 4.1m0 -4.1l-4.1 4.1M497.7 124.5l3.9 3.9m0 -3.9l-3.9 3.9M499.0 123.1l4.2 4.2m0 -4.2l-4.2 4.2M499.5 121.9l4.4 4.4m0 -4.4l-4.4 4.4M498.0 120.8l4.2 4.2m0 -4.2l-4.2 4.2M498.1 119.7l4.2 4.2m0 -4.2l-4.2 4.2" stroke="#ff00ff" stroke-width="1.0" fill="none"/>
<path d="M581.6,118.0L581.6,117.2L581.5,116.4L581.5,115.5L581.4,114.7L581.3,113.8L581.2,112.9L581.2,111.9L581.1,111.0L581.0,110.1L580.9,109.2L580.8,108.2L580.8,107.3L580.7,106.4L580.6,105.4L580.6,104.5L580.5,103.6L580.5,102.7L580.5,101.8L580.4,100.8L580.4,100.5M580.4,96.5L580.4,95.6L580.4,94.7L580.4,93.7L580.4,92.8L580.4,91.9L580.5,91.0L580.5,90.2L580.5,89.3L580.5,88.4L580.5,87.4L580.5,86.5L580.5,85.5L580.6,84.6L580.6,83.6L580.6,82.7L580.6,81.7L580.6,80.8L580.7,79.9L580.7,79.0L580.8,78.1L580.9,77.3L580.9,76.7M581.6,71.9L581.8,71.0L582.0,70.1L582.2,69.2L582.5,68.3L582.8,67.4L583.1,66.6L583.6,65.8L584.0,64.9L584.5,64.1L585.1,63.3L585.7,62.6L586.3,61.9L587.0,61.2L587.7,60.5L588.4,59.8L589.1,59.2L589.9,58.7L590.7,58.2L591.5,57.7L592.3,57.3L593.2,56.9L594.1,56.5L594.9,56.2L595.6,56.0M599.1,55.0L600.1,54.8L600.9,54.6L601.8,54.4L602.6,54.3L603.6,54.2L604.5,54.1L605.4,54.0L606.3,53.9L607.3,53.8L608.2,53.8L609.2,53.7L610.1,53.7M613.5,53.6L614.5,53.6L615.4,53.6L616.4,53.6L617.3,53.7L618.3,53.7L619.3,53.8L620.2,53.9L621.1,54.0L622.0,54.1L622.9,54.2L623.8,54.3L624.6,54.4L625.5,54.6L626.5,54.8L627.5,55.0L628.4,55.2L629.3,55.5L630.1,55.8L631.0,56.1L631.8,56.4L632.6,56.8L633.5,57.2L634.4,57.6L634.9,57.8M640.3,60.8L641.1,61.3L641.9,61.8L642.7,62.4L643.5,62.9L644.3,63.5L645.1,64.0L645.8,64.5L646.5,65.1L647.2,65.6L647.9,66.1L648.6,66.7L649.3,67.3L650.0,67.9L650.8,68.5L651.4,69.1L652.1,69.8L652.8,70.5L653.4,71.2L654.1,71.9L654.6,72.6L655.2,73.3L655.5,73.8M657.7,77.5L658.2,78.3L658.6,79.1L659.1,80.0L659.5,80.8L659.9,81.7L660.3,82.5L660.7,83.4L661.1,84.3L661.4,85.1L661.8,85.9L662.1,86.8L662.4,87.6L662.8,88.5L663.1,89.3L663.4,90.2L663.7,91.0L664.0,91.9L664.2,92.8L664.5,93.7L664.8,94.6L665.0,95.5L665.2,96.4L665.5,97.3L665.7,98.2L665.8,98.9M666.7,104.5L666.8,105.5L666.9,106.4L667.0,107.3L667.1,108.2L667.2,109.2L667.2,110.1L667.3,111.0L667.4,112.0L667.4,112.9L667.4,113.8L667.5,114.7L667.5,115.7L667.5,116.6L667.5,117.5L667.5,118.4L667.5,119.4L667.4,120.3L667.4,121.3L667.4,122.2L667.3,122.5M667.1,126.6L667.0,127.5L666.9,128.4L666.8,129.4L666.7,130.2L666.6,131.1L666.5,132.0L666.5,132.8L666.4,133.7L666.3,134.7L666.2,135.7L666.1,136.7L666.0,137.6L665.9,138.6L665.7,139.5M665.0,144.3L664.9,145.1L664.7,146.0L664.5,146.8L664.3,147.6L664.0,148.6L663.7,149.5L663.4,150.4L663.1,151.2L662.7,152.0L662.3,152.7L661.9,153.5L661.4,154.3L660.9,155.1L660.2,156.1L659.7,156.8L659.6,157.0M656.7,160.7L656.1,161.5L655.5,162.2L654.9,162.9L654.3,163.7L653.6,164.4L653.0,165.1L652.3,165.8L651.6,166.5L651.0,167.2L650.3,167.8L649.6,168.4L649.0,169.1L648.3,169.7L647.6,170.3L646.9,170.9L646.2,171.4L645.5,172.0L644.8,172.5L644.0,173.1L643.3,173.6L642.8,173.9M637.3,177.1L636.6,177.4L635.8,177.8L635.0,178.2L634.1,178.6L633.3,178.9L632.5,179.3L631.6,179.7L630.7,180.0L629.8,180.4L629.2,180.6M624.4,182.2L623.6,182.4L622.7,182.6L621.8,182.9L620.9,183.0L620.0,183.2L619.0,183.4L618.1,183.5L617.1,183.7L616.2,183.8M612.3,184.1L611.4,184.1L610.4,184.1L609.5,184.1L608.6,184.1L607.7,184.1L606.8,184.0L605.9,184.0L605.0,183.9L604.2,183.8L603.2,183.7L602.2,183.5L601.2,183.3L600.2,183.0L599.2,182.8L598.2,182.5L597.3,182.2L596.3,181.9L595.4,181.6L594.6,181.2L593.7,180.8L592.9,180.5L592.1,180.1L591.4,179.7L590.7,179.3L590.5,179.2M586.4,175.5L585.9,174.7L585.4,173.9L584.9,173.1L584.5,172.3L584.1,171.4L583.7,170.6L583.4,169.8L583.1,169.0L582.8,168.1L582.6,167.2L582.4,166.3L582.2,165.4L582.0,164.5L581.9,163.5L581.8,162.5L581.6,161.5L581.6,160.6L581.5,159.7L581.4,158.9L581.4,158.0L581.4,157.2L581.3,156.3L581.3,155.4L581.3,154.4L581.3,153.5L581.3,152.6L581.4,151.6M581.4,147.0L581.4,146.2L581.4,145.3L581.4,144.4L581.4,143.5L581.4,142.5L581.4,141.6L581.5,140.6L581.5,139.6L581.5,139.0M581.5,134.6L581.6,133.7L581.6,132.8L581.6,131.9L581.6,131.1L581.6,130.3L581.6,129.3L581.6,128.3L581.6,127.3L581.6,126.4L581.7,125.5L581.7,124.7L581.7,123.9L581.7,123.0L581.7,122.2L581.7,121.4L581.7,120.5L581.7,119.6L581.6,118.7L581.6,118.0" fill="none" stroke="#ff00ff" stroke-width="3.4" stroke-linejoin="round"/>
<path d="M580.4 116.1l3.8 3.8m0 -3.8l-3.8 3.8M579.4 114.9l4.0 4.0m0 -4.0l-4.0 4.0M579.8 114.1l3.4 3.4m0 -3.4l-3.4 3.4M579.7 112.9l3.5 3.5m0 -3.5l-3.5 3.5M580.6 111.6l3.5 3.5m0 -3.5l-3.5 3.5M579.8 110.1l4.1 4.1m0 -4.1l-4.1 4.1M579.3 109.3l3.5 3.5m0 -3.5l-3.5 3.5M578.5 107.8l4.1 4.1m0 -4.1l-4.1 4.1M578.8 106.5l4.0 4.0m0 -4.0l-4.0 4.0M578.6 105.4l3.9 3.9m0 -3.9l-3.9 3.9M578.6 104.0l4.1 4.1m0 -4.1l-4.1 4.1M580.4 103.0l3.4 3.4m0 -3.4l-3.4 3.4M578.8 101.8l3.7 3.7m0 -3.7l-3.7 3.7M578.5 100.6l3.6 3.6m0 -3.6l-3.6 3.6M578.3 99.3l3.8 3.8m0 -3.8l-3.8 3.8M578.5 94.3l3.8 3.8m0 -3.8l-3.8 3.8M579.2 93.1l3.8 3.8m0 -3.8l-3.8 3.8M579.3 91.7l4.0 4.0m0 -4.0l-4.0 4.0M577.5 90.4l4.3 4.3m0 -4.3l-4.3 4.3M579.2 89.4l4.0 4.0m0 -4.0l-4.0 4.0M579.9 88.1l4.1 4.1m0 -4.1l-4.1 4.1M579.2 87.1l3.7 3.7m0 -3.7l-3.7 3.7M579.6 85.7l4.0 4.0m0 -4.0l-4.0 4.0M578.5 84.5l3.8 3.8m0 -3.8l-3.8 3.8M577.9 83.2l4.0 4.0m0 -4.0l-4.0 4.0M579.1 81.8l4.2 4.2m0 -4.2l-4.2 4.2M579.2 80.8l3.8 3.8m0 -3.8l-3.8 3.8M578.5 79.3l4.2 4.2m0 -4.2l-4.2 4.2M579.7 78.1l4.2 4.2m0 -4.2l-4.2 4.2M579.0 77.0l4.0 4.0m0 -4.0l-4.0 4.0M579.4 75.8l4.1 4.1m0 -4.1l-4.1 4.1M578.2 74.7l3.7 3.7m0 -3.7l-3.7 3.7M578.8 69.9l3.6 3.6m0 -3.6l-3.6 3.6M579.3 68.4l4.3 4.3m0 -4.3l-4.3 4.3M579.5 67.3l3.9 3.9m0 -3.9l-3.9 3.9M580.1 66.3l3.7 3.7m0 -3.7l-3.7 3.7M581.3 65.5l3.5 3.5m0 -3.5l-3.5 3.5M580.8 63.7l4.2 4.2m0 -4.2l-4.2 4.2M580.9 62.2l4.3 4.3m0 -4.3l-4.3 4.3M582.3 61.6l3.9 3.9m0 -3.9l-3.9 3.9M583.8 61.1l3.6 3.6m0 -3.6l-3.6 3.6M584.7 60.2l3.8 3.8m0 -3.8l-3.8 3.8M585.0 58.7l3.5 3.5m0 -3.5l-3.5 3.5M586.2 58.2l4.4 4.4m0 -4.4l-4.4 4.4M587.5 57.7l4.2 4.2m0 -4.2l-4.2 4.2M588.5 56.9l4.0 4.0m0 -4.0l-4.0 4.0M589.5 56.0l3.4 3.4m0 -3.4l-3.4 3.4M590.2 55.1l4.3 4.3m0 -4.3l-4.3 4.3M591.2 54.3l4.2 4.2m0 -4.2l-4.2 4.2M592.4 53.9l4.3 4.3m0 -4.3l-4.3 4.3M597.8 53.7l3.7 3.7m0 -3.7l-3.7 3.7M598.5 51.5l3.6 3.6m0 -3.6l-3.6 3.6M599.8 52.6l4.0 4.0m0 -4.0l-4.0 4.0M601.0 52.4l3.9 3.9m0 -3.9l-3.9 3.9M602.2 52.3l4.0 4.0m0 -4.0l-4.0 4.0M603.6 52.1l3.5 3.5m0 -3.5l-3.5 3.5M604.6 51.8l4.0 4.0m0 -4.0l-4.0 4.0M605.9 52.5l4.1 4.1m0 -4.1l-4.1 4.1M607.0 51.2l4.4 4.4m0 -4.4l-4.4 4.4M612.3 51.9l3.6 3.6m0 -3.6l-3.6 3.6M613.3 51.4l4.3 4.3m0 -4.3l-4.3 4.3M614.6 52.1l4.2 4.2m0 -4.2l-4.2 4.2M615.9 51.9l4.0 4.0m0 -4.0l-4.0 4.0M617.6 51.2l3.5 3.5m0 -3.5l-3.5 3.5M618.5 51.9l4.1 4.1m0 -4.1l-4.1 4.1M619.9 50.6l4.0 4.0m0 -4.0l-4.0 4.0M621.0 52.8l3.7 3.7m0 -3.7l-3.7 3.7M622.1 52.7l3.9 3.9m0 -3.9l-3.9 3.9M623.1 52.5l4.1 4.1m0 -4.1l-4.1 4.1M624.1 53.0l4.1 4.1m0 -4.1l-4.1 4.1M625.4 54.5l3.6 3.6m0 -3.6l-3.6 3.6M626.5 53.5l4.3 4.3m0 -4.3l-4.3 4.3M628.0 54.3l3.5 3.5m0 -3.5l-3.5 3.5M628.7 54.4l4.2 4.2m0 -4.2l-4.2 4.2M630.2 53.9l4.2 4.2m0 -4.2l-4.2 4.2M631.1 55.2l4.0 4.0m0 -4.0l-4.0 4.0M632.4 55.6l4.1 4.1m0 -4.1l-4.1 4.1M639.0 59.5l3.5 3.5m0 -3.5l-3.5 3.5M640.2 60.0l3.6 3.6m0 -3.6l-3.6 3.6M640.5 61.0l4.2 4.2m0 -4.2l-4.2 4.2M642.0 61.7l3.7 3.7m0 -3.7l-3.7 3.7M642.9 62.8l3.5 3.5m0 -3.5l-3.5 3.5M643.3 63.6l4.1 4.1m0 -4.1l-4.1 4.1M644.7 63.8l3.9 3.9m0 -3.9l-3.9 3.9M646.0 64.2l3.8 3.8m0 -3.8l-3.8 3.8M646.4 65.0l4.4 4.4m0 -4.4l-4.4 4.4M647.4 65.8l4.3 4.3m0 -4.3l-4.3 4.3M648.5 66.6l4.1 4.1m0 -4.1l-4.1 4.1M649.5 67.3l4.2 4.2m0 -4.2l-4.2 4.2M650.8 68.4l3.5 3.5m0 -3.5l-3.5 3.5M651.4 69.6l3.6 3.6m0 -3.6l-3.6 3.6M652.6 69.6l4.3 4.3m0 -4.3l-4.3 4.3M653.4 71.1l3.6 3.6m0 -3.6l-3.6 3.6M656.3 76.2l4.1 4.1m0 -4.1l-4.1 4.1M656.6 77.5l4.0 4.0m0 -4.0l-4.0 4.0M657.4 78.7l3.7 3.7m0 -3.7l-3.7 3.7M658.4 79.3l4.2 4.2m0 -4.2l-4.2 4.2M659.2 80.8l3.6 3.6m0 -3.6l-3.6 3.6M658.9 81.9l4.1 4.1m0 -4.1l-4.1 4.1M659.9 82.8l4.2 4.2m0 -4.2l-4.2 4.2M659.3 84.5l3.9 3.9m0 -3.9l-3.9 3.9M661.1 84.8l4.3 4.3m0 -4.3l-4.3 4.3M660.7 86.8l3.6 3.6m0 -3.6l-3.6 3.6M661.6 87.6l3.8 3.8m0 -3.8l-3.8 3.8M662.4 88.9l3.4 3.4m0 -3.4l-3.4 3.4M661.5 90.2l3.8 3.8m0 -3.8l-3.8 3.8M661.6 91.2l4.2 4.2m0 -4.2l-4.2 4.2M662.2 92.6l3.7 3.7m0 -3.7l-3.7 3.7M664.0 93.6l3.5 3.5m0 -3.5l-3.5 3.5M662.5 94.7l4.4 4.4m0 -4.4l-4.4 4.4M664.3 95.8l3.9 3.9m0 -3.9l-3.9 3.9M664.7 103.0l4.4 4.4m0 -4.4l-4.4 4.4M665.0 104.6l3.7 3.7m0 -3.7l-3.7 3.7M665.1 105.9l3.4 3.4m0 -3.4l-3.4 3.4M665.6 107.1l3.4 3.4m0 -3.4l-3.4 3.4M665.6 108.1l4.0 4.0m0 -4.0l-4.0 4.0M665.3 109.2l4.3 4.3m0 -4.3l-4.3 4.3M665.9 110.8l3.4 3.4m0 -3.4l-3.4 3.4M666.3 112.0l3.7 3.7m0 -3.7l-3.7 3.7M665.5 113.2l3.8 3.8m0 -3.8l-3.8 3.8M666.7 114.5l3.5 3.5m0 -3.5l-3.5 3.5M666.1 115.4l4.1 4.1m0 -4.1l-4.1 4.1M664.9 116.9l3.8 3.8m0 -3.8l-3.8 3.8M666.6 117.9l4.2 4.2m0 -4.2l-4.2 4.2M666.5 119.2l4.2 4.2m0 -4.2l-4.2 4.2M664.7 120.7l3.6 3.6m0 -3.6l-3.6 3.6M666.4 125.6l4.2 4.2m0 -4.2l-4.2 4.2M664.1 126.6l4.2 4.2m0 -4.2l-4.2 4.2M663.9 127.7l4.4 4.4m0 -4.4l-4.4 4.4M664.6 129.3l3.6 3.6m0 -3.6l-3.6 3.6M664.9 130.4l3.9 3.9m0 -3.9l-3.9 3.9M664.9 131.5l3.8 3.8m0 -3.8l-3.8 3.8M663.8 132.5l4.4 4.4m0 -4.4l-4.4 4.4M663.9 133.9l4.3 4.3m0 -4.3l-4.3 4.3M663.4 135.1l4.3 4.3m0 -4.3l-4.3 4.3M665.0 136.7l4.0 4.0m0 -4.0l-4.0 4.0M663.2 142.7l3.9 3.9m0 -3.9l-3.9 3.9M663.2 143.8l4.0 4.0m0 -4.0l-4.0 4.0M662.9 144.7l4.4 4.4m0 -4.4l-4.4 4.4M662.4 146.1l3.7 3.7m0 -3.7l-3.7 3.7M661.0 146.9l4.4 4.4m0 -4.4l-4.4 4.4M661.0 148.3l3.7 3.7m0 -3.7l-3.7 3.7M661.5 149.8l3.5 3.5m0 -3.5l-3.5 3.5M660.7 150.7l3.7 3.7m0 -3.7l-3.7 3.7M660.2 151.8l3.5 3.5m0 -3.5l-3.5 3.5M658.7 152.2l4.2 4.2m0 -4.2l-4.2 4.2M659.5 154.1l3.6 3.6m0 -3.6l-3.6 3.6M658.4 154.6l3.9 3.9m0 -3.9l-3.9 3.9M655.1 159.4l3.7 3.7m0 -3.7l-3.7 3.7M654.3 160.4l3.6 3.6m0 -3.6l-3.6 3.6M653.6 161.6l3.4 3.4m0 -3.4l-3.4 3.4M651.5 161.4l4.3 4.3m0 -4.3l-4.3 4.3M651.8 163.5l3.7 3.7m0 -3.7l-3.7 3.7M650.6 164.2l3.7 3.7m0 -3.7l-3.7 3.7M649.2 164.5l4.3 4.3m0 -4.3l-4.3 4.3M648.7 165.7l3.5 3.5m0 -3.5l-3.5 3.5M648.5 167.4l3.5 3.5m0 -3.5l-3.5 3.5M646.3 166.8l4.4 4.4m0 -4.4l-4.4 4.4M645.7 168.0l3.8 3.8m0 -3.8l-3.8 3.8M644.6 168.5l4.0 4.0m0 -4.0l-4.0 4.0M643.7 169.3l4.1 4.1m0 -4.1l-4.1 4.1M643.3 170.8l4.2 4.2m0 -4.2l-4.2 4.2M641.8 170.7l4.3 4.3m0 -4.3l-4.3 4.3M641.4 172.4l4.3 4.3m0 -4.3l-4.3 4.3M634.6 175.4l3.9 3.9m0 -3.9l-3.9 3.9M633.9 176.7l4.0 4.0m0 -4.0l-4.0 4.0M632.3 176.2l4.0 4.0m0 -4.0l-4.0 4.0M631.9 178.1l3.9 3.9m0 -3.9l-3.9 3.9M630.3 177.6l3.8 3.8m0 -3.8l-3.8 3.8M629.3 178.5l3.8 3.8m0 -3.8l-3.8 3.8M627.8 178.2l3.9 3.9m0 -3.9l-3.9 3.9M622.4 181.6l3.6 3.6m0 -3.6l-3.6 3.6M620.6 180.2l4.0 4.0m0 -4.0l-4.0 4.0M619.2 180.2l4.3 4.3m0 -4.3l-4.3 4.3M618.0 180.4l4.4 4.4m0 -4.4l-4.4 4.4M617.3 182.4l3.8 3.8m0 -3.8l-3.8 3.8M615.7 181.4l4.0 4.0m0 -4.0l-4.0 4.0M614.3 181.6l4.3 4.3m0 -4.3l-4.3 4.3M609.5 184.2l3.9 3.9m0 -3.9l-3.9 3.9M608.1 182.6l4.1 4.1m0 -4.1l-4.1 4.1M607.0 182.7l3.8 3.8m0 -3.8l-3.8 3.8M605.7 181.4l4.1 4.1m0 -4.1l-4.1 4.1M604.6 181.6l3.8 3.8m0 -3.8l-3.8 3.8M603.4 181.6l4.0 4.0m0 -4.0l-4.0 4.0M602.3 181.2l3.8 3.8m0 -3.8l-3.8 3.8M600.6 181.6l4.4 4.4m0 -4.4l-4.4 4.4M599.5 182.6l3.6 3.6m0 -3.6l-3.6 3.6M597.9 181.1l4.4 4.4m0 -4.4l-4.4 4.4M596.6 180.8l4.3 4.3m0 -4.3l-4.3 4.3M595.5 180.2l4.2 4.2m0 -4.2l-4.2 4.2M594.7 179.7l3.6 3.6m0 -3.6l-3.6 3.6M593.0 179.9l3.9 3.9m0 -3.9l-3.9 3.9M592.0 178.8l4.0 4.0m0 -4.0l-4.0 4.0M591.2 178.3l3.8 3.8m0 -3.8l-3.8 3.8M589.9 178.1l3.8 3.8m0 -3.8l-3.8 3.8M589.0 177.7l3.7 3.7m0 -3.7l-3.7 3.7M584.5 172.8l4.2 4.2m0 -4.2l-4.2 4.2M583.5 172.1l4.1 4.1m0 -4.1l-4.1 4.1M582.4 171.6l3.7 3.7m0 -3.7l-3.7 3.7M582.4 170.0l3.9 3.9m0 -3.9l-3.9 3.9M581.6 169.4l3.5 3.5m0 -3.5l-3.5 3.5M581.1 167.8l4.2 4.2m0 -4.2l-4.2 4.2M581.3 166.6l3.9 3.9m0 -3.9l-3.9 3.9M580.9 165.5l4.0 4.0m0 -4.0l-4.0 4.0M580.4 164.2l4.2 4.2m0 -4.2l-4.2 4.2M580.1 163.0l4.1 4.1m0 -4.1l-4.1 4.1M580.4 162.0l3.5 3.5m0 -3.5l-3.5 3.5M580.2 160.5l4.0 4.0m0 -4.0l-4.0 4.0M579.4 159.8l3.5 3.5m0 -3.5l-3.5 3.5M579.7 158.3l4.0 4.0m0 -4.0l-4.0 4.0M578.8 157.4l3.6 3.6m0 -3.6l-3.6 3.6M579.5 155.9l4.3 4.3m0 -4.3l-4.3 4.3M578.7 154.8l4.2 4.2m0 -4.2l-4.2 4.2M580.5 153.6l4.0 4.0m0 -4.0l-4.0 4.0M578.0 152.6l3.6 3.6m0 -3.6l-3.6 3.6M579.3 151.1l4.1 4.1m0 -4.1l-4.1 4.1M579.0 150.0l3.9 3.9m0 -3.9l-3.9 3.9M580.7 145.2l3.6 3.6m0 -3.6l-3.6 3.6M579.0 143.7l4.4 4.4m0 -4.4l-4.4 4.4M579.7 142.7l4.0 4.0m0 -4.0l-4.0 4.0M578.9 141.5l3.8 3.8m0 -3.8l-3.8 3.8M579.5 140.4l3.5 3.5m0 -3.5l-3.5 3.5M579.4 139.1l3.6 3.6m0 -3.6l-3.6 3.6M580.0 137.8l3.6 3.6m0 -3.6l-3.6 3.6M579.5 132.8l3.6 3.6m0 -3.6l-3.6 3.6M579.3 131.6l3.5 3.5m0 -3.5l-3.5 3.5M579.8 130.3l3.8 3.8m0 -3.8l-3.8 3.8M579.2 129.0l4.2 4.2m0 -4.2l-4.2 4.2M579.1 128.1l3.8 3.8m0 -3.8l-3.8 3.8M580.6 127.1l3.6 3.6m0 -3.6l-3.6 3.6M579.3 125.7l3.9 3.9m0 -3.9l-3.9 3.9M579.6 124.4l4.1 4.1m0 -4.1l-4.1 4.1M580.4 123.4l3.8 3.8m0 -3.8l-3.8 3.8M579.2 122.1l4.0 4.0m0 -4.0l-4.0 4.0M579.9 121.1l3.9 3.9m0 -3.9l-3.9 3.9M579.6 120.1l3.7 3.7m0 -3.7l-3.7 3.7M579.0 118.8l4.0 4.0m0 -4.0l-4.0 4.0M580.3 117.7l3.8 3.8m0 -3.8l-3.8 3.8M580.3 116.5l3.7 3.7m0 -3.7l-3.7 3.7" stroke="#ff00ff" stroke-width="1.0" fill="none"/>
<path d="M500,118H583" stroke="#ff00ff" stroke-width="5.2"/>
<path d="M499,112.5 Q505,115 516,115.4 L516,120.6 Q505,121 499,123.5Z" fill="#ff00ff"/>
<path d="M584,112 Q576,115 566,115.4 L566,120.6 Q576,121 584,124Z" fill="#ff00ff"/>
<path d="M590.5,59.3C592.1,58.7 596.3,56.4 600.0,55.6C603.7,54.8 608.4,54.5 612.6,54.4C616.8,54.3 621.4,54.6 625.0,55.3C628.6,55.9 630.8,56.8 634.0,58.3C637.2,59.8 640.8,61.9 644.0,64.3C647.2,66.7 650.8,69.1 653.5,72.6C656.2,76.1 658.6,80.9 660.5,85.5C662.4,90.1 664.0,94.8 665.0,100.0C666.0,105.2 666.4,111.0 666.5,116.6C666.6,122.1 665.9,128.2 665.4,133.3C664.9,138.4 664.4,143.3 663.4,147.0C662.4,150.7 661.6,152.2 659.2,155.6C656.8,159.0 652.8,164.0 649.2,167.3C645.6,170.6 642.3,173.2 637.6,175.6C632.9,178.0 626.5,180.6 621.0,181.8C615.5,183.0 609.3,183.2 604.3,182.6C599.3,182.0 593.2,178.8 591.0,178.0" fill="none" stroke="#0000ff" stroke-width="1.8" />
<rect x="616.7" y="56.4" width="1.6" height="1.6" fill="#0000ff"/>
<path d="M551.8,119.3L556.4,123.9M551.8,123.9L556.4,119.3" stroke="#ff00ff" stroke-width="1.3"/>
<path d="M567.6,122.7L572.2,127.3M567.6,127.3L572.2,122.7" stroke="#ff00ff" stroke-width="1.3"/>
<path d="M588.7,115.2L593.3,119.8M588.7,119.8L593.3,115.2" stroke="#ff00ff" stroke-width="1.3"/>
<path d="M587.8,133.0L592.4,137.6M587.8,137.6L592.4,133.0" stroke="#ff00ff" stroke-width="1.3"/>
<path d="M555.0,216.5L559.6,221.1M555.0,221.1L559.6,216.5" stroke="#ff00ff" stroke-width="1.3"/>
<text x="98" y="76.7" transform="rotate(3 98 76.7)" class="cl">5</text>
<text x="110.3" y="87.3" transform="rotate(12 110.3 87.3)" class="cl">10</text>
<text x="212.3" y="99.8" transform="rotate(0 212.3 99.8)" class="cl">5</text>
<text x="225.8" y="102" transform="rotate(-45 225.8 102)" class="cl">10</text>
<text x="317.8" y="94.1" transform="rotate(60 317.8 94.1)" class="cl">5</text>
<text x="320.1" y="114.8" transform="rotate(90 320.1 114.8)" class="cl">10</text>
<text x="256.4" y="158.4" transform="rotate(5 256.4 158.4)" class="cl">5</text>
<text x="230" y="139.7" transform="rotate(30 230 139.7)" class="cl">10</text>
<text x="144.8" y="144.2" transform="rotate(-40 144.8 144.2)" class="cl">5</text>
<text x="117.7" y="149.4" transform="rotate(-5 117.7 149.4)" class="cl">10</text>
<text x="59.9" y="154" transform="rotate(50 59.9 154)" class="cl">5</text>
<text x="65.8" y="149.9" transform="rotate(35 65.8 149.9)" class="cl">10</text>
<text x="472.7" y="27.5" transform="rotate(-5 472.7 27.5)" class="cl">5</text>
<text x="497.7" y="40.8" transform="rotate(25 497.7 40.8)" class="cl">10</text>
<text x="582.2" y="29.6" transform="rotate(-20 582.2 29.6)" class="cl">5</text>
<text x="588.4" y="39.1" transform="rotate(-30 588.4 39.1)" class="cl">10</text>
<text x="410.2" y="95.2" transform="rotate(-75 410.2 95.2)" class="cl">10</text>
<text x="403.4" y="111.9" transform="rotate(-90 403.4 111.9)" class="cl">5</text>
<text x="430" y="87.6" transform="rotate(65 430 87.6)" class="cl">10</text>
<text x="428.8" y="118.1" transform="rotate(90 428.8 118.1)" class="cl">5</text>
<text x="465.6" y="146.4" transform="rotate(-50 465.6 146.4)" class="cl">5</text>
<text x="479.6" y="144.9" transform="rotate(-90 479.6 144.9)" class="cl">10</text>
<text x="605.2" y="86" transform="rotate(-60 605.2 86)" class="cl">10</text>
<text x="613.6" y="119" transform="rotate(-90 613.6 119)" class="cl">5</text>
<text x="652.5" y="143.3" transform="rotate(-75 652.5 143.3)" class="cl">10</text>
<text x="673.3" y="84.7" transform="rotate(75 673.3 84.7)" class="cl">5</text>
<text x="673.5" y="100" transform="rotate(90 673.5 100)" class="cl">10</text>
<text x="456.1" y="197" transform="rotate(20 456.1 197)" class="cl">10</text>
<text x="461.2" y="207.2" transform="rotate(15 461.2 207.2)" class="cl">5</text>
<text x="522.5" y="168.6" transform="rotate(-50 522.5 168.6)" class="cl">10</text>
<text x="533.4" y="192" transform="rotate(0 533.4 192)" class="cl">5</text>
<text x="622.9" y="197.4" transform="rotate(-20 622.9 197.4)" class="cl">10</text>
<text x="643.9" y="195.8" transform="rotate(-25 643.9 195.8)" class="cl">5</text>
<text x="0" y="0" transform="translate(68.4 118.2) skewX(-28) scale(0.82 1.35)" class="cl">10</text>
<text x="0" y="0" transform="translate(302.4 117.8) skewX(-28) scale(0.82 1.35)" class="cl">10</text>
<path d="M40.6,6.3V230.6" stroke="#3a3a3a" stroke-width="1.2"/>
<path d="M40,230H330" stroke="#444" stroke-width="1.4"/>
<path d="M40.5,6.8H43.5" stroke="#333" stroke-width="1"/>
<text x="37" y="10.0" class="tk" text-anchor="end">1.5</text>
<path d="M40.5,44.0H43.5" stroke="#333" stroke-width="1"/>
<text x="37" y="47.2" class="tk" text-anchor="end">1</text>
<path d="M40.5,81.2H43.5" stroke="#333" stroke-width="1"/>
<text x="37" y="84.4" class="tk" text-anchor="end">0.5</text>
<path d="M40.5,118.4H43.5" stroke="#333" stroke-width="1"/>
<text x="37" y="121.6" class="tk" text-anchor="end">0</text>
<path d="M40.5,155.6H43.5" stroke="#333" stroke-width="1"/>
<text x="37" y="158.8" class="tk" text-anchor="end">-0.5</text>
<path d="M40.5,192.8H43.5" stroke="#333" stroke-width="1"/>
<text x="37" y="196.0" class="tk" text-anchor="end">-1</text>
<path d="M40.5,230.0H43.5" stroke="#333" stroke-width="1"/>
<text x="37" y="233.2" class="tk" text-anchor="end">-1.5</text>
<path d="M64.8,229.5V226.5" stroke="#333" stroke-width="1"/>
<text x="64.8" y="243" class="tk" text-anchor="middle">-2</text>
<path d="M94.8,229.5V226.5" stroke="#333" stroke-width="1"/>
<text x="94.8" y="243" class="tk" text-anchor="middle">-1.5</text>
<path d="M124.8,229.5V226.5" stroke="#333" stroke-width="1"/>
<text x="124.8" y="243" class="tk" text-anchor="middle">-1</text>
<path d="M154.8,229.5V226.5" stroke="#333" stroke-width="1"/>
<text x="154.8" y="243" class="tk" text-anchor="middle">-0.5</text>
<path d="M184.8,229.5V226.5" stroke="#333" stroke-width="1"/>
<text x="184.8" y="243" class="tk" text-anchor="middle">0</text>
<path d="M214.8,229.5V226.5" stroke="#333" stroke-width="1"/>
<text x="214.8" y="243" class="tk" text-anchor="middle">0.5</text>
<path d="M244.8,229.5V226.5" stroke="#333" stroke-width="1"/>
<text x="244.8" y="243" class="tk" text-anchor="middle">1</text>
<path d="M274.8,229.5V226.5" stroke="#333" stroke-width="1"/>
<text x="274.8" y="243" class="tk" text-anchor="middle">1.5</text>
<path d="M304.8,229.5V226.5" stroke="#333" stroke-width="1"/>
<text x="304.8" y="243" class="tk" text-anchor="middle">2</text>
<path d="M396.90000000000003,6.3V230.6" stroke="#3a3a3a" stroke-width="1.2"/>
<path d="M396.3,230H686.3" stroke="#444" stroke-width="1.4"/>
<path d="M396.8,6.8H399.8" stroke="#333" stroke-width="1"/>
<text x="393.3" y="10.0" class="tk" text-anchor="end">1.5</text>
<path d="M396.8,44.0H399.8" stroke="#333" stroke-width="1"/>
<text x="393.3" y="47.2" class="tk" text-anchor="end">1</text>
<path d="M396.8,81.2H399.8" stroke="#333" stroke-width="1"/>
<text x="393.3" y="84.4" class="tk" text-anchor="end">0.5</text>
<path d="M396.8,118.4H399.8" stroke="#333" stroke-width="1"/>
<text x="393.3" y="121.6" class="tk" text-anchor="end">0</text>
<path d="M396.8,155.6H399.8" stroke="#333" stroke-width="1"/>
<text x="393.3" y="158.8" class="tk" text-anchor="end">-0.5</text>
<path d="M396.8,192.8H399.8" stroke="#333" stroke-width="1"/>
<text x="393.3" y="196.0" class="tk" text-anchor="end">-1</text>
<path d="M396.8,230.0H399.8" stroke="#333" stroke-width="1"/>
<text x="393.3" y="233.2" class="tk" text-anchor="end">-1.5</text>
<path d="M421.0,229.5V226.5" stroke="#333" stroke-width="1"/>
<text x="421.0" y="243" class="tk" text-anchor="middle">-2</text>
<path d="M451.0,229.5V226.5" stroke="#333" stroke-width="1"/>
<text x="451.0" y="243" class="tk" text-anchor="middle">-1.5</text>
<path d="M481.0,229.5V226.5" stroke="#333" stroke-width="1"/>
<text x="481.0" y="243" class="tk" text-anchor="middle">-1</text>
<path d="M511.0,229.5V226.5" stroke="#333" stroke-width="1"/>
<text x="511.0" y="243" class="tk" text-anchor="middle">-0.5</text>
<path d="M541.0,229.5V226.5" stroke="#333" stroke-width="1"/>
<text x="541.0" y="243" class="tk" text-anchor="middle">0</text>
<path d="M571.0,229.5V226.5" stroke="#333" stroke-width="1"/>
<text x="571.0" y="243" class="tk" text-anchor="middle">0.5</text>
<path d="M601.0,229.5V226.5" stroke="#333" stroke-width="1"/>
<text x="601.0" y="243" class="tk" text-anchor="middle">1</text>
<path d="M631.0,229.5V226.5" stroke="#333" stroke-width="1"/>
<text x="631.0" y="243" class="tk" text-anchor="middle">1.5</text>
<path d="M661.0,229.5V226.5" stroke="#333" stroke-width="1"/>
<text x="661.0" y="243" class="tk" text-anchor="middle">2</text>

<rect x="206.5" y="15.5" width="112.5" height="48" fill="#fff" stroke="#222" stroke-width="1"/>
<g fill="none" stroke="#1a1a1a" stroke-width="1.1">
<ellipse cx="218.9" cy="23.7" rx="9.9" ry="5.6"/>
<ellipse cx="218.9" cy="23.7" rx="7.0" ry="3.9"/>
<ellipse cx="218.9" cy="23.7" rx="4.4" ry="2.3"/>
<ellipse cx="218.9" cy="23.7" rx="2.5" ry="0.9"/>
</g>
<path d="M216.1,37.1L221.1,42.1M216.1,42.1L221.1,37.1" stroke="#ff00ff" stroke-width="1.3"/>
<rect x="218" y="54.1" width="1.9" height="1.9" fill="#0000ff"/>
<text x="230.6" y="28.2" class="lg" textLength="86.5" lengthAdjust="spacing">Resolvent Norm</text>
<text x="230.6" y="43.2" class="lg" textLength="76.3" lengthAdjust="spacing">Finite Section</text>
<text x="230.6" y="58" class="lg" textLength="24.2" lengthAdjust="spacing">IQR</text>

<text x="165" y="261.6" class="ax" letter-spacing="1.3">Re(<tspan font-style="italic">z</tspan>)</text>
<text x="521" y="261.6" class="ax" letter-spacing="1.3">Re(<tspan font-style="italic">z</tspan>)</text>
<text transform="translate(13.6,137.3) rotate(-90)" class="ax" letter-spacing="1.2">Im(<tspan font-style="italic">z</tspan>)</text>
<text transform="translate(369.9,137.3) rotate(-90)" class="ax" letter-spacing="1.2">Im(<tspan font-style="italic">z</tspan>)</text>
</svg>
</body></html>
